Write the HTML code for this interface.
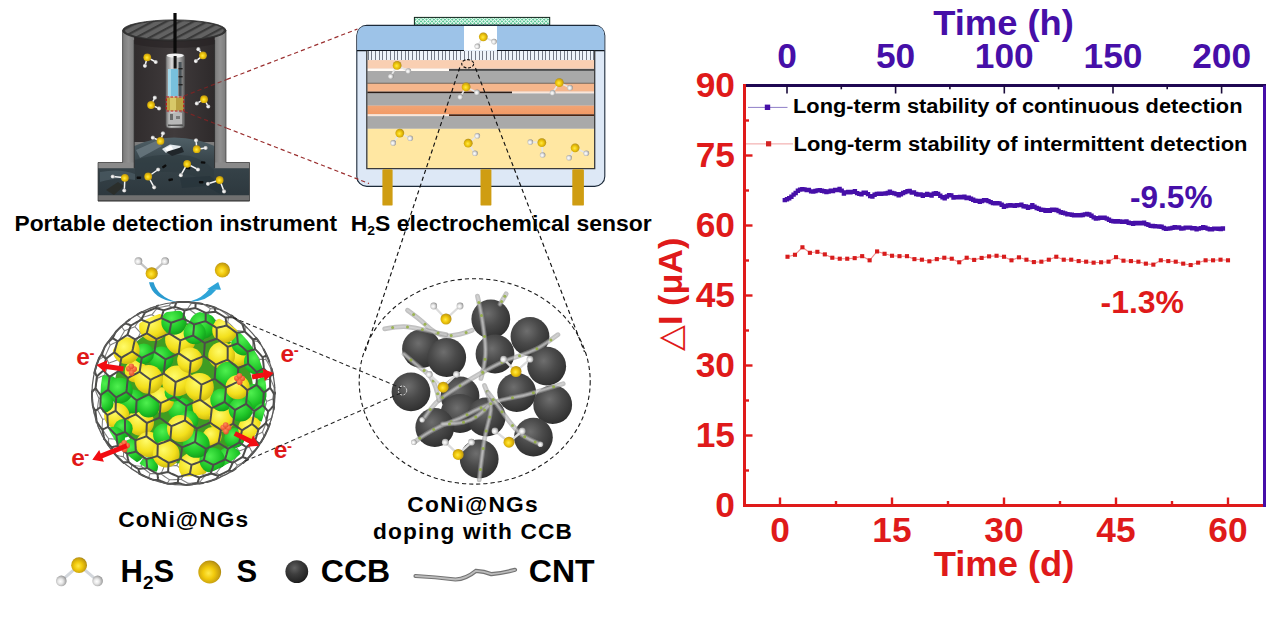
<!DOCTYPE html>
<html><head><meta charset="utf-8"><title>H2S sensor graphical abstract</title>
<style>html,body{margin:0;padding:0;background:#fff;overflow:hidden}svg{display:block}</style>
</head><body>
<svg width="1268" height="629" viewBox="0 0 1268 629">
<rect width="1268" height="629" fill="#fff"/>
<defs>
<radialGradient id="gS" cx="0.45" cy="0.55" r="0.62"><stop offset="0" stop-color="#ffe94a"/><stop offset="0.4" stop-color="#f2ca0c"/><stop offset="0.8" stop-color="#c49c10"/><stop offset="1" stop-color="#8c6e10"/></radialGradient>
<radialGradient id="gH" cx="0.42" cy="0.55" r="0.62"><stop offset="0" stop-color="#ffffff"/><stop offset="0.4" stop-color="#e6e6e6"/><stop offset="0.8" stop-color="#acacac"/><stop offset="1" stop-color="#7c7c7c"/></radialGradient>
<radialGradient id="gC" cx="0.42" cy="0.36" r="0.72"><stop offset="0" stop-color="#6e6e6e"/><stop offset="0.45" stop-color="#4a4a4a"/><stop offset="0.85" stop-color="#333"/><stop offset="1" stop-color="#1c1c1c"/></radialGradient>
<radialGradient id="gC2" cx="0.4" cy="0.34" r="0.7"><stop offset="0" stop-color="#626262"/><stop offset="0.4" stop-color="#3e3e3e"/><stop offset="0.85" stop-color="#262626"/><stop offset="1" stop-color="#141414"/></radialGradient>
<radialGradient id="gG" cx="0.4" cy="0.35" r="0.8"><stop offset="0" stop-color="#4ff04f"/><stop offset="0.55" stop-color="#1fc628"/><stop offset="1" stop-color="#0c8a14"/></radialGradient>
<radialGradient id="gY" cx="0.4" cy="0.35" r="0.8"><stop offset="0" stop-color="#fffb6a"/><stop offset="0.55" stop-color="#f3e01c"/><stop offset="1" stop-color="#b7a208"/></radialGradient>
<radialGradient id="gR" cx="0.4" cy="0.35" r="0.8"><stop offset="0" stop-color="#ff8a5a"/><stop offset="1" stop-color="#e0401c"/></radialGradient>
<linearGradient id="gWall" x1="0" x2="1"><stop offset="0" stop-color="#7a7a7a"/><stop offset="0.5" stop-color="#909090"/><stop offset="1" stop-color="#7c7c7c"/></linearGradient>
<linearGradient id="gInner" x1="0" x2="1"><stop offset="0" stop-color="#302c2d"/><stop offset="0.5" stop-color="#403b3c"/><stop offset="1" stop-color="#2e2a2b"/></linearGradient>
<linearGradient id="gProbe" x1="0" x2="1"><stop offset="0" stop-color="#7c7c7c"/><stop offset="0.3" stop-color="#d4d4d4"/><stop offset="0.7" stop-color="#b0b0b0"/><stop offset="1" stop-color="#606060"/></linearGradient>
<linearGradient id="gWater" x1="0" x2="0" y1="0" y2="1"><stop offset="0" stop-color="#506067"/><stop offset="0.4" stop-color="#38454b"/><stop offset="1" stop-color="#2d383e"/></linearGradient>
<linearGradient id="gOr2" x1="0" x2="0" y1="0" y2="1"><stop offset="0" stop-color="#f2a474"/><stop offset="1" stop-color="#f19a66"/></linearGradient>
<linearGradient id="gTube" x1="0" x2="0" y1="0" y2="1"><stop offset="0" stop-color="#f2f2f2"/><stop offset="1" stop-color="#8c8c8c"/></linearGradient>
<pattern id="pHatch" width="3.7" height="10" patternUnits="userSpaceOnUse" x="367.5" y="50"><rect width="3.7" height="10" fill="#eaf2fa"/><rect x="0" width="0.9" height="10" fill="#7d8a98"/></pattern>
<pattern id="pGreen" width="2.6" height="2.6" patternUnits="userSpaceOnUse" patternTransform="rotate(45)"><rect width="2.6" height="2.6" fill="#eafaf2"/><rect width="1.7" height="1.7" fill="#55c592"/></pattern>
<pattern id="pGrate" width="6.4" height="9" patternUnits="userSpaceOnUse" patternTransform="rotate(62)"><rect width="6.4" height="9" fill="#626262"/><rect width="2.2" height="9" fill="#3a3a3a"/></pattern>
<clipPath id="cSphere"><circle cx="183.5" cy="393.5" r="83"/></clipPath>
</defs>
<path d="M122.6,30.5 L122.6,162.5 L98,162.5 L98,201 L249.5,201 L249.5,162.5 L226,162.5 L226,30.5 Z" fill="#7c7c7c"/>
<rect x="122.6" y="30" width="11.6" height="138" fill="url(#gWall)"/>
<rect x="214.6" y="30" width="11.4" height="138" fill="url(#gWall)"/>
<rect x="134.2" y="30" width="80.4" height="112" fill="url(#gInner)"/>
<rect x="98" y="162.5" width="36.2" height="5.8" fill="#8a8a8a"/>
<rect x="214.6" y="162.5" width="35" height="5.8" fill="#8a8a8a"/>
<path d="M134.2,146 Q150,138 174,137.5 Q198,138 214.6,146 L214.6,168.3 L249.5,168.3 L249.5,195.6 L98,195.6 L98,168.3 L134.2,168.3 Z" fill="url(#gWater)"/>
<path d="M136,150 L156,141 L162,146 L140,158 Z" fill="#6b7b82" opacity="0.8"/>
<path d="M135,160 Q160,152 190,156 Q205,160 214,170 L214,185 Q190,170 160,172 Q145,176 135,180 Z" fill="#2e3a40" opacity="0.55"/>
<path d="M180,178 L210,176 L228,192 L222,195 L206,186 L182,188 Z" fill="#27333a" opacity="0.7"/>
<path d="M100,172 Q120,168 135,174 L135,180 Q118,176 100,182 Z" fill="#51626a" opacity="0.6"/>
<path d="M106,190 L118,182 L124,186 L114,195 Z" fill="#2a2a22" opacity="0.7"/>
<path d="M162,149 L170,144.5 L181,146 L178,151.5 L166,153 Z" fill="#dfe6ea"/>
<path d="M166,152 L182,147 L184,152 L172,156 Z" fill="#20262a"/>
<path d="M165,148.5 L171,145.5 L173,149 L167,151.5 Z" fill="#ffffff"/>
<rect x="162.0" y="165.1" width="4.6" height="2.4" rx="0.8" fill="#0c0c0c" transform="rotate(-35 164.3 166.3)"/>
<rect x="136.6" y="176.6" width="4.6" height="2.4" rx="0.8" fill="#0c0c0c" transform="rotate(0 138.9 177.8)"/>
<rect x="168.4" y="178.5" width="4.6" height="2.4" rx="0.8" fill="#0c0c0c" transform="rotate(-10 170.7 179.7)"/>
<rect x="200.8" y="161.3" width="4.6" height="2.4" rx="0.8" fill="#0c0c0c" transform="rotate(5 203.1 162.5)"/>
<rect x="198.9" y="181.0" width="4.6" height="2.4" rx="0.8" fill="#0c0c0c" transform="rotate(0 201.2 182.2)"/>
<rect x="185.7" y="166.8" width="4.6" height="2.4" rx="0.8" fill="#0c0c0c" transform="rotate(10 188.0 168.0)"/>
<rect x="98" y="195.6" width="151.5" height="5.6" fill="#707070"/>
<rect x="98" y="200.2" width="151.5" height="1" fill="#4a4a4a"/>
<path d="M122.6,30.5 L122.6,162.5 L98,162.5 L98,201 L249.5,201 L249.5,162.5 L226,162.5 L226,30.5" fill="none" stroke="#3a3a3a" stroke-width="0.7"/>
<line x1="134.2" y1="40" x2="134.2" y2="168" stroke="#2a2a2a" stroke-width="0.8"/>
<line x1="214.6" y1="40" x2="214.6" y2="168" stroke="#2a2a2a" stroke-width="0.8"/>
<ellipse cx="174.3" cy="30.5" rx="51.7" ry="10.6" fill="#353535"/>
<ellipse cx="174.3" cy="30.3" rx="49.3" ry="9.2" fill="url(#pGrate)"/>
<ellipse cx="174.3" cy="30.5" rx="51.7" ry="10.6" fill="none" stroke="#2a2a2a" stroke-width="0.8"/>
<path d="M134.2,37 A51.7,10.6 0 0 0 214.6,37 L214.6,44 A51.7,10.6 0 0 1 134.2,44 Z" fill="#262223" opacity="0.6"/>
<rect x="173.4" y="13" width="3.2" height="42" fill="#0a0a0a"/>
<rect x="166" y="54" width="18.5" height="74" rx="3" fill="url(#gProbe)"/>
<rect x="166" y="54" width="18.5" height="74" rx="3" fill="none" stroke="#5a5a5a" stroke-width="0.7"/>
<ellipse cx="175.2" cy="55.5" rx="8.6" ry="2" fill="#f2f2f2"/>
<rect x="173.6" y="56" width="3" height="12.5" fill="#151515"/>
<rect x="168" y="69" width="10" height="27" fill="#78c0dc"/>
<rect x="168" y="69" width="3" height="27" fill="#a4d8ea"/>
<rect x="178.6" y="62" width="3" height="34" fill="#4a5358"/>
<rect x="178.6" y="68" width="4" height="1.4" fill="#222"/><rect x="178.6" y="76" width="4" height="1.4" fill="#222"/><rect x="178.6" y="84" width="4" height="1.4" fill="#222"/>
<rect x="167" y="97.5" width="16.5" height="13" fill="#b8a040"/>
<rect x="170" y="97.5" width="6" height="13" fill="#d8c868"/>
<rect x="168.5" y="113" width="13.5" height="11" fill="#b8b8b8"/>
<rect x="170" y="114" width="3" height="6" fill="#6a6a6a"/><rect x="176" y="116" width="4" height="3" fill="#7a7a7a"/><rect x="168" y="124.5" width="15" height="1.6" fill="#555"/>
<rect x="166.3" y="97" width="17.5" height="14" fill="none" stroke="#c01818" stroke-width="1.2" stroke-dasharray="2.6 1.6"/>
<line x1="147.3" y1="57.3" x2="155.8" y2="62.0" stroke="#f4f4f4" stroke-width="1.5" stroke-linecap="round"/>
<line x1="147.3" y1="57.3" x2="145.0" y2="65.8" stroke="#f4f4f4" stroke-width="1.5" stroke-linecap="round"/>
<circle cx="155.8" cy="62.0" r="2.1" fill="url(#gH)"/>
<circle cx="145.0" cy="65.8" r="2.1" fill="url(#gH)"/>
<circle cx="147.3" cy="57.3" r="3.9" fill="url(#gS)"/>
<line x1="203.0" y1="55.3" x2="198.4" y2="49.2" stroke="#f4f4f4" stroke-width="1.5" stroke-linecap="round"/>
<line x1="203.0" y1="55.3" x2="195.9" y2="61.1" stroke="#f4f4f4" stroke-width="1.5" stroke-linecap="round"/>
<circle cx="198.4" cy="49.2" r="2.1" fill="url(#gH)"/>
<circle cx="195.9" cy="61.1" r="2.1" fill="url(#gH)"/>
<circle cx="203.0" cy="55.3" r="3.9" fill="url(#gS)"/>
<line x1="151.1" y1="105.0" x2="154.9" y2="97.7" stroke="#f4f4f4" stroke-width="1.5" stroke-linecap="round"/>
<line x1="151.1" y1="105.0" x2="159.1" y2="108.4" stroke="#f4f4f4" stroke-width="1.5" stroke-linecap="round"/>
<circle cx="154.9" cy="97.7" r="2.1" fill="url(#gH)"/>
<circle cx="159.1" cy="108.4" r="2.1" fill="url(#gH)"/>
<circle cx="151.1" cy="105.0" r="3.9" fill="url(#gS)"/>
<line x1="204.1" y1="99.2" x2="196.9" y2="103.4" stroke="#f4f4f4" stroke-width="1.5" stroke-linecap="round"/>
<line x1="204.1" y1="99.2" x2="208.3" y2="106.5" stroke="#f4f4f4" stroke-width="1.5" stroke-linecap="round"/>
<circle cx="196.9" cy="103.4" r="2.1" fill="url(#gH)"/>
<circle cx="208.3" cy="106.5" r="2.1" fill="url(#gH)"/>
<circle cx="204.1" cy="99.2" r="3.9" fill="url(#gS)"/>
<line x1="160.5" y1="140.9" x2="152.9" y2="137.7" stroke="#f4f4f4" stroke-width="1.5" stroke-linecap="round"/>
<line x1="160.5" y1="140.9" x2="163.0" y2="133.3" stroke="#f4f4f4" stroke-width="1.5" stroke-linecap="round"/>
<circle cx="152.9" cy="137.7" r="2.1" fill="url(#gH)"/>
<circle cx="163.0" cy="133.3" r="2.1" fill="url(#gH)"/>
<circle cx="160.5" cy="140.9" r="3.9" fill="url(#gS)"/>
<line x1="196.8" y1="149.2" x2="196.1" y2="140.3" stroke="#f4f4f4" stroke-width="1.5" stroke-linecap="round"/>
<line x1="196.8" y1="149.2" x2="205.7" y2="147.9" stroke="#f4f4f4" stroke-width="1.5" stroke-linecap="round"/>
<circle cx="196.1" cy="140.3" r="2.1" fill="url(#gH)"/>
<circle cx="205.7" cy="147.9" r="2.1" fill="url(#gH)"/>
<circle cx="196.8" cy="149.2" r="3.9" fill="url(#gS)"/>
<line x1="187.2" y1="163.8" x2="198.0" y2="169.5" stroke="#f4f4f4" stroke-width="1.5" stroke-linecap="round"/>
<line x1="187.2" y1="163.8" x2="180.9" y2="175.2" stroke="#f4f4f4" stroke-width="1.5" stroke-linecap="round"/>
<circle cx="198.0" cy="169.5" r="2.1" fill="url(#gH)"/>
<circle cx="180.9" cy="175.2" r="2.1" fill="url(#gH)"/>
<circle cx="187.2" cy="163.8" r="3.9" fill="url(#gS)"/>
<line x1="148.2" y1="176.5" x2="158.2" y2="169.5" stroke="#f4f4f4" stroke-width="1.5" stroke-linecap="round"/>
<line x1="148.2" y1="176.5" x2="154.2" y2="187.3" stroke="#f4f4f4" stroke-width="1.5" stroke-linecap="round"/>
<circle cx="158.2" cy="169.5" r="2.1" fill="url(#gH)"/>
<circle cx="154.2" cy="187.3" r="2.1" fill="url(#gH)"/>
<circle cx="148.2" cy="176.5" r="3.9" fill="url(#gS)"/>
<line x1="124.9" y1="177.8" x2="112.8" y2="176.5" stroke="#f4f4f4" stroke-width="1.5" stroke-linecap="round"/>
<line x1="124.9" y1="177.8" x2="124.3" y2="190.5" stroke="#f4f4f4" stroke-width="1.5" stroke-linecap="round"/>
<circle cx="112.8" cy="176.5" r="2.1" fill="url(#gH)"/>
<circle cx="124.3" cy="190.5" r="2.1" fill="url(#gH)"/>
<circle cx="124.9" cy="177.8" r="3.9" fill="url(#gS)"/>
<line x1="219.7" y1="180.0" x2="208.0" y2="183.8" stroke="#f4f4f4" stroke-width="1.5" stroke-linecap="round"/>
<line x1="219.7" y1="180.0" x2="224.1" y2="191.4" stroke="#f4f4f4" stroke-width="1.5" stroke-linecap="round"/>
<circle cx="208.0" cy="183.8" r="2.1" fill="url(#gH)"/>
<circle cx="224.1" cy="191.4" r="2.1" fill="url(#gH)"/>
<circle cx="219.7" cy="180.0" r="3.9" fill="url(#gS)"/>
<rect x="414.4" y="17.4" width="135.3" height="7.8" fill="url(#pGreen)" stroke="#10241a" stroke-width="1"/>
<rect x="356.8" y="25.4" width="248" height="161" rx="10" ry="10" fill="#dde8f6" stroke="#1c2a3a" stroke-width="1.1"/>
<path d="M357.3,50.6 L357.3,35.4 Q357.3,25.9 366.8,25.9 L594.8,25.9 Q604.3,25.9 604.3,35.4 L604.3,50.6 Z" fill="#9dc3e8"/>
<rect x="464" y="26" width="33" height="24.6" fill="#ffffff"/>
<line x1="357" y1="50.6" x2="464" y2="50.6" stroke="#10161e" stroke-width="1.3"/>
<line x1="497" y1="50.6" x2="604.5" y2="50.6" stroke="#10161e" stroke-width="1.3"/>
<rect x="367.3" y="51" width="226.90000000000003" height="9.2" fill="#eef4fa"/>
<path d="M368.1,51V60.2M371.8,51V60.2M375.5,51V60.2M379.2,51V60.2M382.9,51V60.2M386.6,51V60.2M390.3,51V60.2M394.0,51V60.2M397.7,51V60.2M401.4,51V60.2M405.1,51V60.2M408.8,51V60.2M412.5,51V60.2M416.2,51V60.2M419.9,51V60.2M423.6,51V60.2M427.3,51V60.2M431.0,51V60.2M434.7,51V60.2M438.4,51V60.2M442.1,51V60.2M445.8,51V60.2M449.5,51V60.2M453.2,51V60.2M456.9,51V60.2M460.6,51V60.2M464.3,51V60.2M468.0,51V60.2M471.7,51V60.2M475.4,51V60.2M479.1,51V60.2M482.8,51V60.2M486.5,51V60.2M490.2,51V60.2M493.9,51V60.2M497.6,51V60.2M501.3,51V60.2M505.0,51V60.2M508.7,51V60.2M512.4,51V60.2M516.1,51V60.2M519.8,51V60.2M523.5,51V60.2M527.2,51V60.2M530.9,51V60.2M534.6,51V60.2M538.3,51V60.2M542.0,51V60.2M545.7,51V60.2M549.4,51V60.2M553.1,51V60.2M556.8,51V60.2M560.5,51V60.2M564.2,51V60.2M567.9,51V60.2M571.6,51V60.2M575.3,51V60.2M579.0,51V60.2M582.7,51V60.2M586.4,51V60.2M590.1,51V60.2M593.8,51V60.2" stroke="#767c88" stroke-width="1" fill="none" shape-rendering="crispEdges"/>
<rect x="367.3" y="60.1" width="226.90000000000003" height="8.6" fill="#f9cfb2"/>
<rect x="367.3" y="68.7" width="81.69999999999999" height="2.3" fill="#fffaf4"/>
<rect x="449" y="68.9" width="145.20000000000005" height="2" fill="#4c4c4c"/>
<rect x="367.3" y="71" width="226.90000000000003" height="12.2" fill="#a9a9a9"/>
<rect x="367.3" y="83.2" width="226.90000000000003" height="8.5" fill="#f5b68c"/>
<rect x="367.3" y="82.8" width="226.90000000000003" height="0.8" fill="#5a5048"/>
<rect x="367.3" y="91.6" width="144.7" height="1.9" fill="#2a1c16"/>
<rect x="512" y="91.6" width="82.20000000000005" height="1.9" fill="#fbe6d8"/>
<rect x="367.3" y="93.5" width="226.90000000000003" height="12.2" fill="#a9a9a9"/>
<rect x="367.3" y="105.6" width="226.90000000000003" height="8.8" fill="url(#gOr2)"/>
<rect x="367.3" y="114.3" width="81.69999999999999" height="1.9" fill="#fbe6d8"/>
<rect x="449" y="114.3" width="145.20000000000005" height="1.9" fill="#4a2412"/>
<rect x="367.3" y="116.2" width="226.90000000000003" height="12.6" fill="#a9a9a9"/>
<rect x="367.3" y="128.8" width="226.90000000000003" height="39.6" fill="#ffe7a2"/>
<path d="M366.8,50.6 L366.8,168.6 L594.7,168.6 L594.7,50.6" fill="none" stroke="#3a3a3a" stroke-width="1.3"/>
<rect x="382.4" y="169.3" width="10.2" height="36.3" rx="1.2" fill="#cf9d12"/>
<rect x="480.5" y="169.3" width="10.9" height="36.3" rx="1.2" fill="#cf9d12"/>
<rect x="572.3" y="169.3" width="11.6" height="36.3" rx="1.2" fill="#cf9d12"/>
<line x1="483.3" y1="36.8" x2="477.3" y2="46.3" stroke="#e6e6e6" stroke-width="1.7" stroke-linecap="round"/>
<line x1="483.3" y1="36.8" x2="494.0" y2="41.6" stroke="#e6e6e6" stroke-width="1.7" stroke-linecap="round"/>
<circle cx="477.3" cy="46.3" r="2.8" fill="url(#gH)"/>
<circle cx="494.0" cy="41.6" r="2.8" fill="url(#gH)"/>
<circle cx="483.3" cy="36.8" r="4.4" fill="url(#gS)"/>
<line x1="397.1" y1="65.4" x2="408.3" y2="71.0" stroke="#e6e6e6" stroke-width="1.7" stroke-linecap="round"/>
<line x1="397.1" y1="65.4" x2="390.8" y2="76.2" stroke="#e6e6e6" stroke-width="1.7" stroke-linecap="round"/>
<circle cx="408.3" cy="71.0" r="2.8" fill="url(#gH)"/>
<circle cx="390.8" cy="76.2" r="2.8" fill="url(#gH)"/>
<circle cx="397.1" cy="65.4" r="4.4" fill="url(#gS)"/>
<line x1="466.1" y1="86.9" x2="477.0" y2="92.4" stroke="#e6e6e6" stroke-width="1.7" stroke-linecap="round"/>
<line x1="466.1" y1="86.9" x2="460.3" y2="96.9" stroke="#e6e6e6" stroke-width="1.7" stroke-linecap="round"/>
<circle cx="477.0" cy="92.4" r="2.8" fill="url(#gH)"/>
<circle cx="460.3" cy="96.9" r="2.8" fill="url(#gH)"/>
<circle cx="466.1" cy="86.9" r="4.4" fill="url(#gS)"/>
<line x1="559.3" y1="82.6" x2="570.0" y2="87.7" stroke="#e6e6e6" stroke-width="1.7" stroke-linecap="round"/>
<line x1="559.3" y1="82.6" x2="552.6" y2="92.8" stroke="#e6e6e6" stroke-width="1.7" stroke-linecap="round"/>
<circle cx="570.0" cy="87.7" r="2.8" fill="url(#gH)"/>
<circle cx="552.6" cy="92.8" r="2.8" fill="url(#gH)"/>
<circle cx="559.3" cy="82.6" r="4.4" fill="url(#gS)"/>
<line x1="399.8" y1="133.1" x2="410.2" y2="138.2" stroke="#e6e6e6" stroke-width="1.7" stroke-linecap="round"/>
<line x1="399.8" y1="133.1" x2="393.2" y2="142.9" stroke="#e6e6e6" stroke-width="1.7" stroke-linecap="round"/>
<circle cx="410.2" cy="138.2" r="2.8" fill="url(#gH)"/>
<circle cx="393.2" cy="142.9" r="2.8" fill="url(#gH)"/>
<circle cx="399.8" cy="133.1" r="4.4" fill="url(#gS)"/>
<line x1="468.2" y1="143.2" x2="477.3" y2="135.8" stroke="#e6e6e6" stroke-width="1.7" stroke-linecap="round"/>
<line x1="468.2" y1="143.2" x2="475.0" y2="153.3" stroke="#e6e6e6" stroke-width="1.7" stroke-linecap="round"/>
<circle cx="477.3" cy="135.8" r="2.8" fill="url(#gH)"/>
<circle cx="475.0" cy="153.3" r="2.8" fill="url(#gH)"/>
<circle cx="468.2" cy="143.2" r="4.4" fill="url(#gS)"/>
<line x1="541.8" y1="142.6" x2="530.3" y2="142.1" stroke="#e6e6e6" stroke-width="1.7" stroke-linecap="round"/>
<line x1="541.8" y1="142.6" x2="542.6" y2="155.0" stroke="#e6e6e6" stroke-width="1.7" stroke-linecap="round"/>
<circle cx="530.3" cy="142.1" r="2.8" fill="url(#gH)"/>
<circle cx="542.6" cy="155.0" r="2.8" fill="url(#gH)"/>
<circle cx="541.8" cy="142.6" r="4.4" fill="url(#gS)"/>
<line x1="575.1" y1="147.8" x2="586.3" y2="153.2" stroke="#e6e6e6" stroke-width="1.7" stroke-linecap="round"/>
<line x1="575.1" y1="147.8" x2="569.1" y2="157.7" stroke="#e6e6e6" stroke-width="1.7" stroke-linecap="round"/>
<circle cx="586.3" cy="153.2" r="2.8" fill="url(#gH)"/>
<circle cx="569.1" cy="157.7" r="2.8" fill="url(#gH)"/>
<circle cx="575.1" cy="147.8" r="4.4" fill="url(#gS)"/>
<path d="M158.6,447.8L156.3,445.3L153.9,442.8L151.6,440.2L149.3,437.6M271.8,369.4L271.7,369.1L271.0,369.1M262.5,432.0L260.7,433.1L258.7,434.1L256.7,435.1L254.5,436.2M274.0,406.8L274.3,404.9L273.9,403.0L273.4,400.9L272.7,398.8M102.6,419.2L101.2,416.7L99.9,414.2L98.6,411.8L97.4,409.4M264.2,380.2L262.8,377.7L261.3,375.1L259.8,372.6L258.1,370.0M188.5,483.4L187.4,484.4L186.4,485.0L185.4,485.0M266.7,401.3L265.6,399.0L264.5,396.7L263.2,394.3L261.9,391.8M210.8,415.6L207.2,416.3L203.6,417.0L200.0,417.7L196.4,418.3M192.1,393.0L190.8,396.5L189.5,400.1L188.2,403.6L186.9,407.1M131.6,464.9L129.6,463.0L127.5,461.0L125.4,458.9L123.4,456.8M136.5,365.4L133.3,366.2L130.3,367.0L127.3,367.8L124.4,368.6M252.7,394.1L251.8,397.2L250.8,400.4L249.8,403.6L248.8,406.8M174.1,334.8L170.7,335.4L167.3,336.1L163.9,336.7L160.5,337.4M244.8,325.6L245.1,326.8L245.2,328.3L245.3,329.9L245.3,331.6M265.1,352.1L264.8,351.4M152.9,329.5L149.7,330.3L146.6,331.1L143.5,332.0L140.5,332.8M110.2,345.2L109.6,343.8L109.1,342.5L108.7,341.3L108.9,340.6M109.0,446.3L108.2,445.5L107.6,444.6M215.9,401.8L214.6,405.2L213.4,408.7L212.1,412.1L210.8,415.6M206.7,390.4L203.1,391.1L199.4,391.7L195.8,392.4L192.1,393.0M263.4,413.1L261.4,413.9L259.3,414.7L257.0,415.5L254.7,416.3M153.3,425.3L152.2,428.4L151.2,431.6L150.2,434.6L149.3,437.6M214.0,330.3L210.9,330.4L207.7,330.6L204.5,330.9L201.3,331.2M207.6,481.8L205.1,482.4M261.9,391.8L259.8,392.4L257.5,392.9L255.2,393.5L252.7,394.1M97.6,378.2L96.9,376.1L96.3,374.2L95.8,372.3L95.3,370.5M205.1,482.4L204.0,482.7L202.7,483.0L201.3,482.5L199.8,481.8M210.3,308.5L208.2,307.2L206.1,305.9L204.1,304.8L202.1,303.9M92.0,391.5L92.0,394.0M197.1,342.2L193.6,342.6L190.1,343.1L186.6,343.6L183.1,344.2M131.3,415.9L130.5,419.1L129.6,422.2L128.9,425.2L128.1,428.1M143.2,458.3L140.9,456.1L138.7,453.8L136.5,451.5L134.3,449.1M140.9,318.1L139.4,320.1L137.9,322.2L136.4,324.4L134.9,326.7M140.9,318.1L139.7,317.1L138.6,316.2L137.7,315.5L136.8,314.9M123.5,347.7L122.2,350.6L120.9,353.5L119.6,356.5L118.3,359.5M202.1,303.9L199.5,303.6L196.8,303.5L194.1,303.4L191.4,303.5M245.9,460.4L246.0,460.3M108.8,363.2L107.7,366.2L106.6,369.1L105.6,372.1L104.7,375.1M233.8,385.6L232.7,389.0L231.7,392.3L230.5,395.7L229.4,399.1M123.2,405.0L120.4,405.5L117.7,405.9L115.2,406.4L112.7,406.8M211.5,376.6L209.1,373.8L206.8,370.9L204.4,368.1L202.0,365.3M163.7,359.4L161.5,356.8L159.3,354.3L157.2,351.8L155.1,349.4M206.5,352.5L204.1,349.8L201.8,347.2L199.4,344.7L197.1,342.2M252.1,452.0L250.7,454.3L249.2,456.4L247.7,458.5L246.0,460.3M168.9,305.6L166.0,306.1L163.2,306.7L160.4,307.3L157.6,307.9M98.9,359.9L98.9,358.5L99.4,357.4M274.2,388.2L273.5,386.0L272.6,383.7L271.6,381.4L270.6,379.0M237.4,465.2L236.6,464.3L235.6,463.3L234.6,462.1L233.4,460.9M239.2,432.2L237.9,435.2L236.5,438.2L235.2,441.2L233.8,444.0M237.4,465.2L235.9,467.1L234.4,468.9L232.8,470.6L231.0,471.7M150.0,473.4L147.8,471.7L145.6,470.0L143.4,468.1L141.2,466.2M127.1,392.0L126.0,395.3L125.1,398.5L124.1,401.8L123.2,405.0M187.8,308.5L184.9,308.7L181.9,309.0L178.9,309.3L175.8,309.7M128.1,428.1L125.4,428.4L122.7,428.6L120.1,428.7L117.6,428.9M139.6,389.4L136.4,390.1L133.2,390.7L130.1,391.3L127.1,392.0M191.2,431.7L187.6,432.3L184.0,432.9L180.4,433.5L176.8,434.1M254.5,436.2L253.2,438.9L251.9,441.6L250.6,444.3L249.2,446.9M194.9,453.4L191.5,454.0L188.1,454.5L184.7,455.1L181.3,455.5M250.1,428.5L247.5,429.4L244.8,430.4L242.0,431.3L239.2,432.2M229.0,361.7L228.1,364.8L227.1,368.0L226.1,371.2L225.1,374.5M271.0,420.2L271.4,418.8L271.9,417.3M119.8,381.5L117.1,382.2L114.5,382.9L112.1,383.6L109.7,384.3M175.8,309.7L174.0,308.5L172.2,307.4L170.5,306.5L168.9,305.6M183.1,344.2L180.8,341.7L178.5,339.4L176.3,337.0L174.1,334.8M247.1,327.8L246.0,326.7L244.8,325.6M143.2,458.3L142.6,460.5L142.1,462.5L141.7,464.4L141.2,466.2M188.5,483.4L186.7,482.5L184.9,481.5L183.0,480.4L181.0,479.3M124.6,330.8L123.7,329.6L122.9,328.5L122.2,327.5L121.6,326.7M249.2,446.9L246.9,448.0L244.4,449.1L241.9,450.1L239.3,451.1M248.7,371.1L246.8,368.5L244.9,365.8L242.8,363.1L240.8,360.4M244.8,325.6L242.8,323.8L240.7,322.1L238.6,320.4L236.5,318.9M266.7,421.1L266.0,419.2L265.3,417.2L264.4,415.2L263.4,413.1M233.8,444.0L230.8,445.0L227.8,445.8L224.7,446.7L221.5,447.6M237.3,409.8L236.1,413.1L234.9,416.4L233.6,419.6L232.4,422.9M155.1,349.4L151.7,350.2L148.3,351.0L145.0,351.8L141.8,352.6M225.1,374.5L221.8,375.0L218.4,375.5L215.0,376.0L211.5,376.6M243.2,349.4L242.6,352.0L242.1,354.7L241.5,357.6L240.8,360.4M124.4,368.6L122.8,366.3L121.2,363.9L119.7,361.7L118.3,359.5M161.0,473.9L158.2,473.9L155.4,473.8L152.6,473.6L150.0,473.4M160.5,337.4L158.5,335.3L156.6,333.3L154.7,331.3L152.9,329.5M252.7,394.1L251.0,391.5L249.3,388.9L247.5,386.2L245.6,383.5M201.3,331.2L199.0,329.0L196.7,326.8L194.5,324.7L192.2,322.7M144.5,375.8L143.3,379.2L142.0,382.6L140.8,386.0L139.6,389.4M136.8,438.7L136.1,441.4L135.5,444.1L134.8,446.6L134.3,449.1M228.7,316.0L228.5,317.3L228.3,318.8L228.0,320.4L227.7,322.1M220.0,309.6L220.1,309.6L220.2,309.8M176.8,465.4L173.6,465.7L170.4,466.0L167.3,466.2L164.1,466.4M172.2,409.6L170.9,413.1L169.7,416.5L168.5,419.9L167.3,423.2M172.2,409.6L169.7,406.8L167.3,403.9L165.0,401.0L162.6,398.2M246.0,460.3L244.1,461.7L242.0,462.9L239.8,464.1L237.4,465.2M254.5,436.2L253.5,434.4L252.5,432.5L251.3,430.6L250.1,428.5M263.7,437.5L262.4,439.9L261.0,442.1L259.6,444.3L258.1,446.4M227.7,322.1L225.1,321.8L222.4,321.7L219.7,321.6L216.8,321.5M110.4,418.5L108.2,418.7L106.2,418.9L104.4,419.0L102.6,419.2M196.4,418.3L195.1,421.7L193.8,425.1L192.5,428.4L191.2,431.7M243.2,349.4L241.1,346.8L239.0,344.3L236.8,341.8L234.7,339.4M140.5,332.8L139.0,331.2L137.6,329.6L136.2,328.1L134.9,326.7M109.7,384.3L108.3,381.9L107.0,379.6L105.8,377.3L104.7,375.1M219.3,426.0L217.3,423.5L215.1,420.9L213.0,418.3L210.8,415.6M108.8,363.2L107.8,361.2L106.9,359.3L106.0,357.5L105.3,355.8M254.7,416.3L253.3,414.1L251.9,411.7L250.4,409.3L248.8,406.8M95.0,389.4L93.8,389.9L92.7,390.5L92.0,391.0L92.0,391.5M254.7,416.3L253.6,419.4L252.4,422.5L251.3,425.5L250.1,428.5M264.8,351.4L263.5,349.1L262.2,346.8L260.7,344.4L259.2,342.2M191.4,303.5L190.6,304.5L189.7,305.7L188.8,307.0L187.8,308.5M148.4,400.6L147.3,404.1L146.2,407.4L145.1,410.8L144.0,414.1M134.3,449.1L131.6,449.1L129.0,449.0L126.5,448.9L124.1,448.8M236.3,330.5L234.2,328.3L232.0,326.1L229.9,324.1L227.7,322.1M186.9,407.1L183.2,407.8L179.5,408.4L175.8,409.0L172.2,409.6M124.4,368.6L123.2,371.8L122.0,375.1L120.9,378.3L119.8,381.5M98.9,359.9L98.0,362.6L97.0,365.2L96.2,367.8L95.3,370.5M216.8,321.5L216.2,323.5L215.5,325.7L214.8,327.9L214.0,330.3M128.5,320.3L126.8,321.7L125.0,323.2L123.1,324.7L121.6,326.7M270.6,379.0L269.2,379.3L267.7,379.5L266.0,379.9L264.2,380.2M144.0,414.1L140.7,414.6L137.5,415.1L134.4,415.5L131.3,415.9M157.6,307.9L156.2,307.2L155.0,306.7L154.0,306.9L153.1,307.2M117.6,428.9L115.7,426.3L113.9,423.7L112.1,421.1L110.4,418.5M124.6,330.8L123.2,333.2L121.7,335.7L120.3,338.2L118.9,340.8M200.2,441.7L198.0,439.3L195.7,436.8L193.5,434.3L191.2,431.7M170.8,484.1L168.8,483.8L166.8,483.5M108.5,438.5L106.8,436.1L105.2,433.7L103.7,431.3L102.2,428.9M222.3,464.7L220.8,466.9L219.4,469.0L217.9,471.0L216.5,472.9M216.5,472.9L213.6,473.7L210.8,474.4L207.8,475.1L204.9,475.8M248.7,371.1L248.0,374.2L247.3,377.2L246.5,380.4L245.6,383.5M93.5,410.0L93.1,407.7L92.8,405.5M141.2,466.2L138.7,466.0L136.3,465.7L133.9,465.3L131.6,464.9M178.0,356.8L174.4,357.4L170.8,358.1L167.2,358.7L163.7,359.4M93.5,410.0L93.9,412.3L94.4,414.5M259.2,342.2L257.9,341.7L256.4,341.3L254.7,340.9L253.0,340.6M206.5,352.5L205.4,355.6L204.3,358.8L203.2,362.0L202.0,365.3M210.3,308.5L209.8,309.7L209.2,311.0L208.6,312.5L208.0,314.1M232.4,422.9L229.2,423.7L226.0,424.5L222.7,425.3L219.3,426.0M272.7,398.8L271.4,399.4L270.0,400.0L268.4,400.7L266.7,401.3M203.1,461.4L201.8,463.8L200.4,466.1L199.1,468.4L197.9,470.5M127.1,392.0L125.2,389.3L123.3,386.7L121.6,384.1L119.8,381.5M134.9,344.0L131.9,344.9L129.0,345.8L126.2,346.7L123.5,347.7M104.7,375.1L102.7,375.9L100.9,376.6L99.2,377.4L97.6,378.2M266.7,421.1L265.7,423.8L264.7,426.6L263.6,429.3L262.5,432.0M192.1,393.0L189.7,390.1L187.2,387.2L184.8,384.4L182.4,381.5M124.1,448.8L122.1,446.4L120.1,444.0L118.1,441.6L116.2,439.1M233.8,385.6L231.7,382.9L229.5,380.1L227.3,377.3L225.1,374.5M105.3,355.8L103.5,356.8L101.9,357.9L100.3,358.9L98.9,359.9M274.1,405.9L274.0,406.8M123.5,347.7L122.2,345.8L121.0,344.1L119.9,342.4L118.9,340.8M112.7,406.8L111.0,404.2L109.4,401.6L107.9,399.1L106.4,396.6M115.2,332.7L113.6,334.5L112.0,336.4L110.4,338.5L108.9,340.6M160.5,337.4L159.2,340.3L157.8,343.3L156.4,346.3L155.1,349.4M92.0,391.5L92.1,389.6M221.5,476.1L220.3,475.5L219.1,474.7L217.9,473.9L216.5,472.9M234.7,339.4L231.9,339.4L229.1,339.5L226.2,339.6L223.2,339.7M136.8,438.7L134.6,436.1L132.4,433.4L130.3,430.8L128.1,428.1M239.3,451.1L238.0,449.5L236.7,447.8L235.3,445.9L233.8,444.0M167.7,384.1L166.4,387.6L165.1,391.2L163.8,394.7L162.6,398.2M264.2,380.2L263.7,383.0L263.2,385.9L262.6,388.9L261.9,391.8M199.8,481.8L196.9,482.3L194.1,482.7L191.3,483.1L188.5,483.4M158.4,319.8L156.7,318.4L155.1,317.0L153.5,315.7L152.0,314.6M117.6,428.9L117.2,431.6L116.8,434.2L116.4,436.7L116.2,439.1M158.4,372.9L154.9,373.6L151.4,374.3L147.9,375.1L144.5,375.8M271.0,369.1L269.9,366.7L268.6,364.3L267.4,361.9L266.0,359.6M167.7,384.1L165.3,381.3L163.0,378.5L160.7,375.7L158.4,372.9M155.1,458.1L152.0,458.2L149.0,458.3L146.1,458.3L143.2,458.3M213.9,438.8L210.5,439.6L207.1,440.3L203.6,441.0L200.2,441.7M202.0,365.3L198.4,365.9L194.8,366.4L191.2,367.0L187.5,367.6M144.5,375.8L142.4,373.1L140.4,370.5L138.4,367.9L136.5,365.4M118.3,359.5L115.8,360.5L113.4,361.4L111.0,362.3L108.8,363.2M181.3,455.5L179.0,453.3L176.8,451.0L174.5,448.7L172.1,446.2M102.2,428.9L100.8,428.8L99.6,428.6L98.9,428.3L98.7,427.7M175.8,309.7L174.7,311.5L173.5,313.3L172.3,315.2L171.0,317.3M200.2,441.7L198.8,444.7L197.5,447.7L196.2,450.6L194.9,453.4M162.6,398.2L159.0,398.8L155.4,399.4L151.9,400.0L148.4,400.6M158.6,447.8L157.7,450.5L156.8,453.1L155.9,455.6L155.1,458.1M257.5,339.6L258.3,340.9L259.2,342.2M140.5,332.8L139.1,335.5L137.7,338.3L136.3,341.1L134.9,344.0M274.8,387.5L274.8,387.8L274.2,388.2M153.1,307.2L150.7,308.1M264.8,351.4L265.6,353.1L265.8,355.2L265.9,357.3L266.0,359.6M216.8,321.5L214.6,319.6L212.4,317.7L210.2,315.9L208.0,314.1M109.7,384.3L108.8,387.4L108.0,390.5L107.2,393.5L106.4,396.6M185.3,472.4L184.2,474.3L183.1,476.1L182.1,477.7L181.0,479.3M132.2,469.2L130.6,468.2M228.7,316.0L226.6,314.3L224.5,312.8L222.3,311.2L220.2,309.8M116.0,454.9L114.2,452.8L112.4,450.7L110.7,448.5L109.0,446.3M185.3,472.4L183.2,470.8L181.1,469.1L179.0,467.3L176.8,465.4M173.7,302.5L172.5,302.7L171.3,303.2L170.1,304.3L168.9,305.6M98.9,398.5L97.8,396.1L96.8,393.8L95.9,391.6L95.0,389.4M248.8,406.8L246.1,407.6L243.2,408.3L240.3,409.0L237.3,409.8M155.2,480.5L153.0,479.8L150.8,479.0L148.6,478.1M169.5,479.8L167.4,478.4L165.3,477.0L163.2,475.5L161.0,473.9M219.3,426.0L218.0,429.3L216.6,432.5L215.3,435.7L213.9,438.8M98.9,398.5L98.4,401.3L98.0,404.0L97.7,406.7L97.4,409.4M97.6,378.2L96.9,381.0L96.2,383.8L95.6,386.6L95.0,389.4M231.3,471.5L231.0,471.7M97.4,409.4L96.1,409.6L94.9,409.8L93.8,410.0L93.5,410.0M233.4,460.9L230.7,461.9L228.0,462.9L225.2,463.8L222.3,464.7M183.1,344.2L181.8,347.2L180.6,350.3L179.3,353.5L178.0,356.8M252.1,452.0L251.5,450.9L250.8,449.7L250.1,448.3L249.2,446.9M202.4,304.0L202.1,303.9M208.0,314.1L205.1,314.1L202.1,314.2L199.2,314.3L196.1,314.4M222.3,464.7L220.8,463.3L219.2,461.8L217.6,460.1L215.9,458.4M181.3,455.5L180.1,458.2L179.0,460.7L177.9,463.1L176.8,465.4M259.5,359.4L259.3,361.9L259.0,364.5L258.6,367.2L258.1,370.0M116.0,454.9L116.7,456.0L117.5,456.9M157.6,307.9L156.2,309.4L154.8,311.0L153.4,312.8L152.0,314.6M245.6,383.5L242.8,384.0L239.9,384.6L236.9,385.1L233.8,385.6M169.5,479.8L168.7,481.0L168.0,482.1L167.3,483.1L166.8,483.5M196.1,314.4L194.0,312.8L191.9,311.3L189.8,309.8L187.8,308.5M131.3,415.9L129.2,413.2L127.2,410.5L125.2,407.7L123.2,405.0M211.5,376.6L210.3,380.0L209.1,383.5L207.9,386.9L206.7,390.4M191.4,303.5L189.5,302.6L187.7,302.1L185.8,302.0L184.1,302.0M138.6,473.2L136.4,472.0L134.3,470.6L132.2,469.2M176.8,434.1L174.4,431.4L172.1,428.7L169.7,426.0L167.3,423.2M229.4,399.1L226.1,399.8L222.8,400.4L219.3,401.1L215.9,401.8M221.5,447.6L220.1,450.4L218.7,453.1L217.3,455.8L215.9,458.4M196.1,314.4L195.2,316.3L194.2,318.3L193.3,320.5L192.2,322.7M141.8,352.6L140.0,350.3L138.2,348.1L136.5,346.0L134.9,344.0M266.7,401.3L266.0,404.2L265.2,407.2L264.3,410.1L263.4,413.1M141.8,352.6L140.4,355.7L139.1,358.9L137.8,362.2L136.5,365.4M131.6,464.9L131.6,466.4L131.5,467.7L131.6,468.9L132.2,469.2M167.3,423.2L163.7,423.8L160.2,424.3L156.7,424.8L153.3,425.3M253.0,340.6L251.1,338.3L249.2,336.0L247.3,333.8L245.3,331.6M166.8,483.5L164.3,483.0L161.9,482.4L159.6,481.8M215.9,458.4L212.7,459.2L209.5,460.0L206.3,460.7L203.1,461.4M118.9,340.8L116.6,341.9L114.4,342.9L112.2,344.1L110.2,345.2M106.4,396.6L104.4,397.1L102.4,397.5L100.6,398.0L98.9,398.5M176.8,434.1L175.6,437.2L174.4,440.3L173.3,443.3L172.1,446.2M108.5,438.5L108.5,440.6L108.6,442.6L108.8,444.5L109.0,446.3M171.0,317.3L167.8,317.9L164.7,318.5L161.5,319.1L158.4,319.8M258.1,370.0L256.0,370.3L253.7,370.5L251.3,370.8L248.7,371.1M148.4,400.6L146.2,397.8L144.0,395.0L141.8,392.2L139.6,389.4M172.1,446.2L168.7,446.7L165.3,447.1L161.9,447.4L158.6,447.8M236.3,330.5L236.0,332.5L235.6,334.7L235.2,337.0L234.7,339.4M245.3,331.6L243.2,331.3L241.0,331.0L238.7,330.7L236.3,330.5M201.3,331.2L200.3,333.8L199.2,336.5L198.2,339.3L197.1,342.2M102.6,419.2L102.4,421.7L102.3,424.2L102.2,426.6L102.2,428.9M203.1,461.4L201.1,459.5L199.1,457.5L197.0,455.5L194.9,453.4M223.2,339.7L220.9,337.3L218.6,334.9L216.3,332.6L214.0,330.3M150.0,473.4L149.6,474.8L149.2,476.0L148.9,477.1L148.6,478.1M179.1,324.4L177.9,326.8L176.7,329.4L175.4,332.1L174.1,334.8M252.5,349.4L250.3,349.3L248.0,349.3L245.7,349.3L243.2,349.4M274.2,388.2L274.0,390.8L273.6,393.4L273.2,396.1L272.7,398.8M237.3,409.8L235.4,407.2L233.5,404.5L231.4,401.8L229.4,399.1M152.0,314.6L149.2,315.4L146.3,316.2L143.6,317.1L140.9,318.1M158.4,319.8L157.0,322.1L155.7,324.5L154.3,326.9L152.9,329.5M110.2,345.2L108.9,347.8L107.7,350.4L106.5,353.1L105.3,355.8M116.2,439.1L114.0,439.0L112.1,438.9L110.2,438.7L108.5,438.5M229.0,361.7L226.7,359.0L224.5,356.3L222.2,353.6L219.9,350.9M271.0,369.1L271.0,371.4L270.9,373.9L270.8,376.4L270.6,379.0M124.1,448.8L123.8,451.0L123.6,453.0L123.5,455.0L123.4,456.8M187.5,367.6L185.1,364.9L182.7,362.1L180.4,359.4L178.0,356.8M112.7,406.8L112.1,409.8L111.4,412.8L110.9,415.7L110.4,418.5M134.9,326.7L132.2,327.7L129.6,328.7L127.1,329.7L124.6,330.8M149.3,437.6L146.1,437.9L142.9,438.2L139.8,438.4L136.8,438.7M221.5,476.1L219.9,477.4L218.2,478.2L216.6,478.8M163.7,359.4L162.3,362.7L161.0,366.1L159.7,369.5L158.4,372.9M239.2,432.2L237.6,429.9L235.9,427.7L234.2,425.3L232.4,422.9M258.1,446.4L257.0,448.0L255.8,449.6L254.0,450.8L252.1,452.0M266.0,359.6L264.6,359.5L263.0,359.4L261.3,359.4L259.5,359.4M197.9,470.5L194.7,471.0L191.6,471.5L188.4,472.0L185.3,472.4M240.8,360.4L238.0,360.7L235.1,361.0L232.1,361.3L229.0,361.7M153.3,425.3L150.9,422.5L148.6,419.7L146.3,416.9L144.0,414.1M274.0,406.8L273.6,409.4L273.1,412.0L272.5,414.6L271.9,417.3M221.5,447.6L219.7,445.5L217.8,443.3L215.9,441.1L213.9,438.8M136.8,314.9L134.6,316.2L132.5,317.6L130.5,318.9L128.5,320.3M187.5,367.6L186.3,371.1L185.0,374.5L183.7,378.0L182.4,381.5M236.5,318.9L234.9,317.8L233.0,317.0L230.9,316.5L228.7,316.0M164.1,466.4L163.3,468.5L162.5,470.4L161.7,472.2L161.0,473.9M259.5,359.4L257.9,356.9L256.1,354.4L254.3,351.9L252.5,349.4M263.7,437.5L263.9,436.5L263.5,435.1L263.1,433.6L262.5,432.0M253.0,340.6L252.9,342.6L252.8,344.8L252.7,347.0L252.5,349.4M223.2,339.7L222.4,342.4L221.6,345.2L220.8,348.0L219.9,350.9M164.1,466.4L161.9,464.4L159.6,462.4L157.4,460.2L155.1,458.1M219.9,350.9L216.6,351.3L213.3,351.6L209.9,352.0L206.5,352.5M182.4,381.5L178.7,382.1L175.0,382.8L171.3,383.5L167.7,384.1M220.2,309.8L217.9,309.4L215.4,309.0L212.9,308.7L210.3,308.5M95.3,370.5L94.7,371.5L94.4,372.5M231.0,471.7L228.8,473.0L226.5,474.3L224.0,475.2L221.5,476.1M204.9,475.8L203.6,477.5L202.3,479.0L201.0,480.5L199.8,481.8M196.4,418.3L194.0,415.6L191.7,412.8L189.3,410.0L186.9,407.1M215.9,401.8L213.6,399.0L211.3,396.1L209.0,393.3L206.7,390.4M239.3,451.1L237.8,453.7L236.4,456.2L234.9,458.6L233.4,460.9M184.1,302.0L181.5,302.0L178.9,302.1L176.3,302.3L173.7,302.5M179.1,324.4L177.0,322.5L175.0,320.7L173.0,318.9L171.0,317.3M264.5,436.1L263.7,437.5M123.4,456.8L121.4,456.4L119.5,456.0L117.7,455.5L116.0,454.9M121.6,326.7L119.6,328.0L118.1,329.6L116.6,331.1L115.2,332.7M181.0,479.3L178.1,479.5L175.2,479.6L172.3,479.7L169.5,479.8M148.6,478.1L146.5,477.2L144.5,476.3L142.5,475.3M192.2,322.7L189.0,323.1L185.7,323.4L182.4,323.9L179.1,324.4M108.9,340.6L107.8,342.1M204.9,475.8L203.2,474.6L201.5,473.3L199.7,472.0L197.9,470.5M142.1,311.9L140.3,312.8L138.6,313.8L136.8,314.9M98.7,427.7L97.7,425.4M271.9,417.3L271.0,418.3L269.7,419.2L268.3,420.1L266.7,421.1" fill="none" stroke="#808080" stroke-width="1.1" stroke-linecap="round" stroke-linejoin="round"/>
<g clip-path="url(#cSphere)">
<circle cx="183.5" cy="393.5" r="70" fill="#3f9d22"/>
<circle cx="135.9" cy="371.3" r="11.1" fill="url(#gY)"/>
<circle cx="193.1" cy="466.7" r="14.3" fill="url(#gY)"/>
<circle cx="161.3" cy="358.6" r="12.1" fill="url(#gG)"/>
<circle cx="140.6" cy="422.2" r="13.4" fill="url(#gY)"/>
<circle cx="132.7" cy="401.5" r="12.1" fill="url(#gG)"/>
<circle cx="116.8" cy="415.8" r="12.7" fill="url(#gY)"/>
<circle cx="153.4" cy="326.8" r="14.3" fill="url(#gY)"/>
<circle cx="264.7" cy="387.2" r="10.2" fill="url(#gG)"/>
<circle cx="123.2" cy="428.5" r="9.5" fill="url(#gG)"/>
<circle cx="205.8" cy="406.3" r="13.4" fill="url(#gY)"/>
<circle cx="132.7" cy="450.8" r="12.1" fill="url(#gG)"/>
<circle cx="221.7" cy="419.0" r="12.7" fill="url(#gY)"/>
<circle cx="237.6" cy="353.8" r="12.7" fill="url(#gY)"/>
<circle cx="253.5" cy="396.7" r="12.7" fill="url(#gG)"/>
<circle cx="229.7" cy="458.8" r="12.1" fill="url(#gG)"/>
<circle cx="234.4" cy="438.1" r="10.2" fill="url(#gG)"/>
<circle cx="180.4" cy="409.5" r="12.1" fill="url(#gG)"/>
<circle cx="161.3" cy="399.9" r="12.7" fill="url(#gY)"/>
<circle cx="263.1" cy="412.6" r="9.5" fill="url(#gG)"/>
<circle cx="212.2" cy="460.3" r="12.7" fill="url(#gG)"/>
<circle cx="148.6" cy="444.4" r="12.7" fill="url(#gY)"/>
<circle cx="212.2" cy="436.5" r="9.5" fill="url(#gY)"/>
<circle cx="202.6" cy="325.2" r="13.4" fill="url(#gG)"/>
<circle cx="180.4" cy="339.5" r="15.3" fill="url(#gY)"/>
<circle cx="143.8" cy="353.8" r="10.2" fill="url(#gG)"/>
<circle cx="107.3" cy="387.2" r="12.1" fill="url(#gG)"/>
<circle cx="148.6" cy="466.7" r="9.5" fill="url(#gG)"/>
<circle cx="221.7" cy="355.4" r="13.4" fill="url(#gY)"/>
<circle cx="120.0" cy="390.4" r="12.7" fill="url(#gG)"/>
<circle cx="250.3" cy="428.5" r="12.1" fill="url(#gY)"/>
<circle cx="188.3" cy="420.6" r="10.2" fill="url(#gG)"/>
<circle cx="164.5" cy="434.9" r="11.4" fill="url(#gG)"/>
<circle cx="196.3" cy="444.4" r="13.4" fill="url(#gG)"/>
<circle cx="221.7" cy="399.9" r="11.4" fill="url(#gG)"/>
<circle cx="180.4" cy="428.5" r="13.4" fill="url(#gY)"/>
<circle cx="174.0" cy="392.0" r="9.5" fill="url(#gG)"/>
<circle cx="244.0" cy="342.7" r="12.7" fill="url(#gG)"/>
<circle cx="256.7" cy="361.8" r="12.7" fill="url(#gG)"/>
<circle cx="177.2" cy="380.9" r="15.3" fill="url(#gY)"/>
<circle cx="224.9" cy="330.0" r="12.7" fill="url(#gY)"/>
<circle cx="166.1" cy="454.0" r="13.4" fill="url(#gY)"/>
<circle cx="113.6" cy="438.1" r="11.4" fill="url(#gG)"/>
<circle cx="104.1" cy="403.1" r="9.5" fill="url(#gG)"/>
<circle cx="228.1" cy="374.5" r="12.7" fill="url(#gG)"/>
<circle cx="174.0" cy="322.0" r="12.7" fill="url(#gG)"/>
<circle cx="199.5" cy="387.2" r="14.3" fill="url(#gY)"/>
<circle cx="148.6" cy="406.3" r="11.1" fill="url(#gG)"/>
<circle cx="148.6" cy="379.3" r="14.3" fill="url(#gY)"/>
<circle cx="126.3" cy="350.6" r="13.4" fill="url(#gY)"/>
<circle cx="240.8" cy="409.5" r="12.1" fill="url(#gG)"/>
<circle cx="194.7" cy="333.2" r="11.1" fill="url(#gG)"/>
<circle cx="189.9" cy="360.2" r="12.7" fill="url(#gY)"/>
<circle cx="237.6" cy="387.2" r="12.1" fill="url(#gY)"/>
</g>
<path d="M199.4,477.5L198.8,479.1L198.3,480.5L197.8,481.9L197.2,483.1M97.8,361.5L96.9,363.9L96.1,366.4L95.4,368.9L94.7,371.5M268.1,411.5L269.6,410.1L271.0,408.6L272.2,407.2L273.4,405.8M211.8,408.1L215.1,406.6L218.3,405.0L221.5,403.5L224.6,401.9M263.8,392.6L263.6,395.8L263.4,398.9L263.1,402.1L262.7,405.2M146.9,423.0L150.0,421.7L153.1,420.4L156.3,419.0L159.5,417.7M195.0,442.0L197.8,443.8L200.6,445.5L203.3,447.2L206.0,448.8M195.6,303.0L195.6,304.1L195.5,305.3L195.5,306.6L195.4,308.1M213.4,464.9L216.4,463.6L219.3,462.2L222.2,460.9L225.0,459.4M132.3,351.4L134.5,353.0L136.9,354.6L139.3,356.3L141.8,358.0M214.0,307.2L214.5,307.7L214.8,308.9L215.1,310.2L215.4,311.7M195.4,308.1L197.9,309.2L200.5,310.4L203.0,311.6L205.7,313.0M121.4,357.8L120.8,361.0L120.2,364.2L119.6,367.4L119.1,370.7M248.1,363.8L250.4,365.9L252.6,368.0L254.7,370.1L256.8,372.2M150.6,379.8L150.1,383.4L149.8,387.1L149.4,390.7L149.0,394.4M96.9,376.5L96.5,379.4L96.2,382.3L95.9,385.2L95.6,388.1M233.1,423.7L235.4,425.5L237.7,427.1L239.9,428.8L242.0,430.3M125.0,419.3L125.0,422.5L125.0,425.7L125.0,428.9L125.1,432.0M186.8,484.9L189.4,484.8L192.0,484.3L194.6,483.7L197.2,483.1M182.0,447.4L185.2,446.1L188.5,444.8L191.7,443.4L195.0,442.0M117.6,341.4L119.9,339.7L122.4,338.1L124.8,336.5L127.4,334.9M119.1,370.7L121.2,372.5L123.4,374.3L125.6,376.1L127.9,378.0M227.7,346.9L227.7,350.0L227.7,353.1L227.7,356.3L227.6,359.6M114.4,352.3L116.0,353.6L117.7,354.9L119.5,356.4L121.4,357.8M205.7,313.0L208.2,312.5L210.7,312.2L213.1,311.9L215.4,311.7M102.4,429.6L103.6,429.0L105.0,428.4L106.5,427.7L108.1,427.0M210.1,422.5L212.8,424.5L215.6,426.4L218.3,428.2L220.9,430.0M184.5,310.5L184.2,312.3L183.9,314.3L183.6,316.4L183.2,318.6M125.4,323.5L126.7,323.9L128.0,324.3L129.4,324.8L131.0,325.5M255.3,440.5L256.5,441.4L257.6,442.3L258.5,443.0L259.4,443.7M193.2,335.5L196.0,337.3L198.9,339.2L201.8,341.1L204.7,343.0M259.4,443.7L258.4,446.0L257.0,448.0L255.6,449.8L254.2,451.6M117.8,445.8L120.0,447.8L122.3,449.8L124.6,451.8L127.0,453.7M135.4,440.3L138.0,439.4L140.7,438.4L143.5,437.4L146.4,436.3M216.6,328.0L216.7,330.5L216.7,333.2L216.7,336.0L216.6,338.8M159.5,417.7L162.5,419.8L165.5,422.0L168.5,424.1L171.5,426.2M155.5,308.1L157.4,308.5L159.4,309.0L161.5,309.6L163.7,310.3M94.3,373.1L94.7,371.5M224.6,401.9L227.3,404.0L230.0,406.0L232.5,408.0L235.0,410.0M203.8,460.1L206.3,461.4L208.8,462.7L211.1,463.8L213.4,464.9M269.9,376.2L271.0,375.4L272.0,374.5L272.8,373.8L272.7,373.2M195.6,303.0L198.0,303.2L200.2,303.5L202.3,304.0M117.4,330.2L115.9,331.8L114.8,333.8L113.8,335.9L112.7,338.2M247.3,390.2L247.1,393.6L246.8,397.0L246.4,400.4L246.1,403.8M203.9,356.0L206.9,358.2L209.8,360.3L212.7,362.4L215.7,364.6M236.8,333.0L237.1,335.5L237.4,338.1L237.6,340.7L237.8,343.5M180.4,340.4L183.6,339.1L186.8,337.8L190.0,336.6L193.2,335.5M96.9,376.5L98.4,375.1L100.0,373.6L101.7,372.1L103.5,370.6M258.4,429.5L257.7,432.3L256.9,435.1L256.1,437.8L255.3,440.5M165.5,359.3L168.8,357.8L172.2,356.3L175.5,354.8L178.9,353.4M201.5,384.7L201.2,388.4L200.8,392.1L200.4,395.9L200.1,399.6M171.5,426.2L174.8,424.8L178.1,423.4L181.5,421.9L184.9,420.4M129.5,319.6L128.1,320.7L126.6,321.8L125.4,323.5M168.6,462.9L168.5,465.3L168.3,467.6L168.2,469.9L168.1,471.9M135.9,451.5L138.5,453.5L141.1,455.4L143.8,457.3L146.5,459.1M131.0,325.5L130.1,327.7L129.1,330.0L128.3,332.4L127.4,334.9M146.7,333.4L149.1,334.7L151.5,336.1L154.0,337.6L156.5,339.1M194.1,324.5L193.9,327.1L193.7,329.8L193.4,332.6L193.2,335.5M246.1,403.8L248.2,405.7L250.3,407.6L252.3,409.4L254.3,411.1M255.1,349.1L257.1,351.1L259.0,353.2L260.8,355.2L262.6,357.3M174.2,397.0L177.2,399.2L180.3,401.4L183.4,403.6L186.4,405.8M178.5,476.9L181.3,476.2L184.1,475.4L187.0,474.6L189.9,473.8M125.0,419.3L127.6,418.1L130.2,416.9L133.0,415.7L135.8,414.4M214.7,378.8L217.6,381.0L220.4,383.1L223.2,385.3L226.0,387.5M197.2,483.1L199.3,483.4L201.2,483.3L203.0,482.9M246.3,447.1L245.4,449.6L244.5,452.1L243.6,454.5L242.6,456.8M112.7,338.2L113.8,338.8L115.0,339.6L116.2,340.4L117.6,341.4M171.5,426.2L171.2,429.7L170.9,433.1L170.6,436.5L170.3,439.7M244.6,331.6L246.8,333.5L249.0,335.5L251.1,337.4L253.1,339.4M190.8,361.5L190.4,365.1L190.1,368.7L189.7,372.3L189.4,375.9M186.4,302.0L188.6,302.1L190.9,302.3L193.3,302.5L195.6,303.0M215.4,311.7L217.9,313.1L220.4,314.5L222.9,316.0L225.4,317.6M145.0,312.5L144.1,314.2L143.2,315.9L142.3,317.8L141.5,319.7M178.9,353.4L181.8,355.4L184.8,357.4L187.8,359.4L190.8,361.5M168.1,471.9L170.8,473.3L173.4,474.5L176.0,475.7L178.5,476.9M138.4,469.0L140.4,468.8L142.6,468.6L144.8,468.4L147.2,468.0M177.7,482.8L180.1,483.5L182.4,484.2L184.6,484.8L186.8,484.9M146.5,459.1L146.6,461.5L146.8,463.8L147.0,465.9L147.2,468.0M171.1,322.8L170.7,325.4L170.2,328.0L169.7,330.7L169.2,333.6M139.7,313.2L140.7,312.6L141.8,312.1L143.3,312.2L145.0,312.5M225.0,459.4L227.1,460.4L229.0,461.3L230.8,462.1L232.6,462.9M220.9,430.0L224.0,428.5L227.1,426.9L230.1,425.3L233.1,423.7M116.4,435.3L118.4,434.5L120.5,433.7L122.7,432.9L125.1,432.0M186.8,484.9L186.5,485.0M200.1,399.6L203.0,401.8L206.0,403.9L208.9,406.0L211.8,408.1M95.4,411.0L95.7,413.7L96.0,416.4L96.3,419.0L96.7,421.6M232.6,462.9L231.7,465.0L230.8,467.0L229.8,468.9L228.8,470.6M256.8,372.2L256.8,375.3L256.8,378.5L256.7,381.7L256.6,384.9M107.4,415.2L109.3,414.2L111.3,413.1L113.4,412.0L115.6,410.8M149.5,323.1L148.8,325.5L148.1,328.1L147.4,330.7L146.7,333.4M126.4,391.9L128.9,394.0L131.4,396.1L134.0,398.2L136.7,400.3M165.5,359.3L165.0,362.8L164.6,366.3L164.2,369.9L163.7,373.5M235.0,410.0L234.6,413.5L234.1,416.9L233.6,420.3L233.1,423.7M205.6,321.2L208.4,322.8L211.1,324.5L213.9,326.2L216.6,328.0M226.0,387.5L225.7,391.1L225.4,394.7L225.0,398.3L224.6,401.9M146.9,423.0L146.7,426.4L146.6,429.8L146.5,433.1L146.4,436.3M92.6,403.6L92.8,405.4L93.3,407.3L94.3,409.1L95.4,411.0M256.1,337.8L257.3,339.4M237.7,381.8L240.2,384.0L242.6,386.1L245.0,388.1L247.3,390.2M268.6,427.2L267.6,429.6L266.5,431.9L265.5,434.2L264.3,436.4M194.1,324.5L197.1,323.6L200.0,322.7L202.8,321.9L205.6,321.2M215.7,364.6L215.4,368.1L215.2,371.6L214.9,375.2L214.7,378.8M146.4,436.3L149.2,438.4L152.1,440.4L154.9,442.5L157.8,444.5M115.1,454.3L116.9,456.3L118.8,458.2L120.7,460.0L122.7,461.9M163.7,310.3L163.1,312.1L162.5,314.0L161.9,316.0L161.3,318.1M127.0,453.7L127.4,456.0L127.8,458.2L128.3,460.3L128.8,462.2M128.8,462.2L131.1,464.0L133.5,465.7L135.9,467.4L138.4,469.0M265.9,423.0L266.8,424.2L267.6,425.3L268.4,426.4L268.6,427.2M167.9,483.7L168.1,483.7M247.5,458.8L249.3,457.1L251.0,455.2L252.7,453.4L254.2,451.6M246.3,447.1L248.6,445.4L250.9,443.8L253.2,442.1L255.3,440.5M127.4,334.9L129.2,335.9L131.0,337.0L133.0,338.2L135.1,339.4M206.0,448.8L209.2,447.4L212.3,446.0L215.5,444.5L218.6,443.0M117.2,330.5L117.4,330.2M242.0,430.3L244.6,428.7L247.2,427.1L249.7,425.5L252.1,423.9M107.4,415.2L107.5,418.2L107.6,421.2L107.8,424.1L108.1,427.0M100.7,395.1L102.4,393.8L104.2,392.5L106.1,391.2L108.2,389.8M109.6,376.9L111.8,375.4L114.2,373.8L116.6,372.3L119.1,370.7M140.6,474.3L142.9,475.5L145.3,476.7L147.7,477.7L150.1,478.7M272.7,373.2L273.1,375.1M94.7,371.5L94.6,372.5L95.2,373.8L96.0,375.1L96.9,376.5M205.7,313.0L205.7,314.8L205.7,316.8L205.7,318.9L205.6,321.2M175.7,382.1L179.1,380.5L182.6,379.0L186.0,377.5L189.4,375.9M100.7,395.1L100.6,398.1L100.5,401.2L100.4,404.2L100.5,407.2M108.1,427.0L110.0,429.0L112.1,431.1L114.2,433.2L116.4,435.3M196.8,428.6L196.3,432.1L195.9,435.5L195.5,438.8L195.0,442.0M228.8,470.6L230.4,470.9L231.8,471.2L232.7,470.7L233.5,470.1M156.5,339.1L156.0,342.2L155.4,345.3L154.9,348.5L154.4,351.8M225.4,317.6L225.8,319.4L226.1,321.3L226.4,323.4L226.7,325.6M150.1,478.7L151.9,479.4L153.8,480.0L155.9,480.0L158.2,479.9M145.0,312.5L147.6,311.4L150.2,310.2L152.9,309.1L155.5,308.1M247.5,458.8L246.0,460.3L244.5,461.7L243.1,463.0M108.2,389.8L110.0,391.7L112.0,393.6L114.0,395.6L116.2,397.5M220.9,430.0L220.3,433.4L219.8,436.6L219.2,439.8L218.6,443.0M174.8,306.9L177.2,307.6L179.6,308.5L182.0,309.4L184.5,310.5M263.8,368.3L265.5,370.4L267.0,372.3L268.5,374.3L269.9,376.2M226.0,387.5L229.0,386.0L232.0,384.6L234.9,383.2L237.7,381.8M256.8,372.2L258.7,371.1L260.5,370.2L262.2,369.2L263.8,368.3M259.4,443.7L261.1,442.1L262.2,440.1L263.3,438.2L264.3,436.4M247.5,351.8L249.6,351.0L251.5,350.3L253.4,349.7L255.1,349.1M227.7,346.9L230.4,346.0L233.0,345.1L235.4,344.2L237.8,343.5M269.9,376.2L270.0,379.1L270.1,382.0L270.1,384.9L270.1,387.8M163.7,310.3L166.5,309.4L169.3,308.5L172.1,307.6L174.8,306.9M271.5,368.4L272.1,370.8L272.7,373.2M127.9,378.0L130.8,376.4L133.7,374.9L136.7,373.3L139.7,371.7M149.5,323.1L152.4,321.8L155.4,320.5L158.3,319.3L161.3,318.1M186.4,405.8L189.8,404.2L193.2,402.7L196.7,401.1L200.1,399.6M157.4,456.0L160.2,457.8L163.0,459.6L165.8,461.2L168.6,462.9M189.9,473.8L192.3,474.8L194.7,475.8L197.1,476.7L199.4,477.5M104.0,438.9L104.2,439.1L104.5,439.2M105.9,358.9L107.9,357.2L110.0,355.6L112.1,354.0L114.4,352.3M214.0,307.2L215.8,307.9M242.0,430.3L241.3,433.5L240.6,436.5L239.9,439.5L239.2,442.5M116.2,397.5L116.0,400.9L115.8,404.2L115.7,407.5L115.6,410.8M117.4,330.2L119.2,328.4L121.1,326.6L123.2,325.0L125.4,323.5M233.2,317.4L235.5,319.0L237.8,320.6L240.0,322.3L242.2,324.0M257.3,339.4L258.7,341.4L260.1,343.5M191.5,464.9L194.6,463.8L197.7,462.6L200.8,461.4L203.8,460.1M213.4,464.9L212.8,467.2L212.1,469.4L211.4,471.4L210.7,473.4M206.7,305.0L209.1,305.7L211.6,306.4L214.0,307.2M270.1,387.8L271.3,389.6L272.4,391.3L273.4,393.0L274.3,394.7M253.1,339.4L253.7,341.7L254.2,344.1L254.6,346.5L255.1,349.1M92.0,393.0L92.0,395.7L92.1,398.4L92.3,401.0L92.6,403.6M117.6,341.4L116.7,344.0L115.9,346.7L115.1,349.5L114.4,352.3M96.6,422.2L96.5,421.9L96.7,421.6M163.7,373.5L166.7,375.6L169.7,377.8L172.7,379.9L175.7,382.1M211.8,408.1L211.4,411.8L211.0,415.4L210.5,419.0L210.1,422.5M141.8,358.0L144.9,356.4L148.0,354.9L151.2,353.3L154.4,351.8M170.3,439.7L173.3,441.7L176.2,443.6L179.1,445.5L182.0,447.4M268.6,427.2L269.3,425.4L269.9,423.7M141.8,358.0L141.2,361.4L140.7,364.8L140.2,368.2L139.7,371.7M204.7,343.0L207.8,341.9L210.8,340.8L213.8,339.8L216.6,338.8M146.5,459.1L149.1,458.4L151.8,457.7L154.6,456.9L157.4,456.0M191.5,464.9L191.1,467.3L190.7,469.6L190.3,471.7L189.9,473.8M135.8,414.4L138.5,416.5L141.3,418.7L144.1,420.9L146.9,423.0M157.6,474.0L160.1,473.6L162.7,473.1L165.4,472.5L168.1,471.9M125.1,432.0L127.6,434.1L130.1,436.2L132.7,438.3L135.4,440.3M160.7,403.1L160.4,406.8L160.1,410.4L159.8,414.1L159.5,417.7M161.3,318.1L163.6,319.2L166.1,320.3L168.6,321.5L171.1,322.8M102.0,354.6L102.8,355.5L103.7,356.6L104.8,357.7L105.9,358.9M176.6,302.3L179.1,302.1L181.6,302.0L184.1,302.0L186.4,302.0M207.2,481.9L209.6,481.2L212.1,480.4L214.6,479.5M218.6,443.0L221.1,444.5L223.5,446.0L225.8,447.4L228.0,448.8M136.7,400.3L136.4,403.9L136.2,407.4L136.0,410.9L135.8,414.4M121.4,357.8L124.0,356.2L126.7,354.6L129.5,353.0L132.3,351.4M136.7,400.3L139.7,398.8L142.7,397.4L145.9,395.9L149.0,394.4M106.0,344.9L105.9,345.1M225.4,317.6L227.5,317.4L229.5,317.3L231.4,317.3L233.2,317.4M127.0,453.7L129.0,453.3L131.2,452.8L133.5,452.2L135.9,451.5M196.8,428.6L200.1,427.1L203.4,425.6L206.8,424.1L210.1,422.5M137.4,314.5L139.7,313.2M100.5,407.2L102.0,409.1L103.7,411.1L105.5,413.1L107.4,415.2M263.7,349.4L264.7,351.4L265.7,353.4L266.7,355.5M254.3,411.1L253.8,414.4L253.3,417.6L252.7,420.8L252.1,423.9M254.3,411.1L256.5,409.6L258.7,408.1L260.8,406.6L262.7,405.2M139.7,371.7L142.3,373.7L145.0,375.7L147.8,377.7L150.6,379.8M190.8,361.5L194.1,360.1L197.4,358.7L200.7,357.4L203.9,356.0M199.4,477.5L202.2,476.5L205.0,475.5L207.9,474.5L210.7,473.4M237.8,343.5L240.3,345.5L242.8,347.6L245.2,349.7L247.5,351.8M180.4,340.4L180.0,343.5L179.6,346.7L179.2,350.0L178.9,353.4M233.5,470.1L235.6,468.7M158.2,479.9L160.6,481.0L163.1,482.0L165.5,483.0L167.9,483.7M262.6,357.3L263.9,356.7L265.0,356.2L266.1,355.8L266.7,355.5M262.7,405.2L264.2,406.9L265.6,408.5L266.9,410.0L268.1,411.5M253.1,339.4L254.5,339.1L255.8,339.0L256.9,338.9L257.3,339.4M154.4,351.8L157.1,353.6L159.8,355.4L162.6,357.3L165.5,359.3M216.6,328.0L219.2,327.3L221.8,326.7L224.3,326.1L226.7,325.6M274.3,394.7L275.0,393.5L275.0,392.4M157.8,444.5L160.9,443.3L164.0,442.2L167.1,441.0L170.3,439.7M171.1,322.8L174.2,321.7L177.2,320.6L180.3,319.6L183.2,318.6M273.4,405.8L274.0,407.2L273.8,408.4L273.6,409.6M141.5,319.7L143.3,320.5L145.3,321.3L147.4,322.2L149.5,323.1M116.4,435.3L116.7,438.0L117.0,440.7L117.4,443.3L117.8,445.8M258.4,429.5L260.4,427.8L262.3,426.2L264.2,424.6L265.9,423.0M111.6,447.1L113.0,446.9L114.4,446.6L116.0,446.2L117.8,445.8M186.4,405.8L186.0,409.5L185.6,413.2L185.3,416.8L184.9,420.4M115.6,410.8L117.8,412.9L120.2,415.0L122.5,417.1L125.0,419.3M105.9,345.1L107.2,343.2L109.0,341.5L110.8,339.8L112.7,338.2M135.1,339.4L134.3,342.3L133.6,345.3L133.0,348.3L132.3,351.4M239.2,442.5L241.1,443.7L242.9,444.9L244.6,446.0L246.3,447.1M228.0,448.8L230.9,447.2L233.7,445.7L236.5,444.1L239.2,442.5M184.5,310.5L187.3,309.8L190.0,309.1L192.7,308.6L195.4,308.1M274.3,394.7L274.2,397.5L273.9,400.3L273.7,403.1L273.4,405.8M105.9,345.1L104.6,347.2L103.7,349.6L102.8,352.0L102.0,354.6M122.7,461.9L123.8,462.3L125.4,462.3L127.0,462.3L128.8,462.2M95.4,411.0L96.5,410.1L97.7,409.2L99.0,408.2L100.5,407.2M131.0,325.5L133.5,324.0L136.1,322.5L138.8,321.1L141.5,319.7M175.7,382.1L175.3,385.8L174.9,389.5L174.6,393.3L174.2,397.0M242.2,324.0L243.5,324.4L244.3,325.1M172.5,302.7L174.5,302.4L176.6,302.3M109.6,376.9L109.2,380.1L108.8,383.3L108.5,386.6L108.2,389.8M216.6,338.8L219.5,340.8L222.2,342.8L225.0,344.8L227.7,346.9M201.5,384.7L204.9,383.2L208.2,381.7L211.4,380.2L214.7,378.8M169.2,333.6L172.0,335.2L174.7,336.9L177.5,338.6L180.4,340.4M116.2,397.5L118.6,396.2L121.1,394.8L123.7,393.4L126.4,391.9M238.2,368.2L240.8,367.0L243.4,365.9L245.8,364.8L248.1,363.8M236.8,333.0L238.9,332.6L240.9,332.2L242.8,331.9L244.6,331.6M262.6,357.3L263.0,360.0L263.3,362.7L263.6,365.5L263.8,368.3M139.1,473.5L140.6,474.3M168.6,462.9L171.6,462.0L174.6,461.0L177.6,460.0L180.7,458.9M247.5,351.8L247.7,354.7L247.9,357.6L248.0,360.7L248.1,363.8M92.0,391.5L92.0,393.0M104.5,439.2L106.2,441.2L107.9,443.2L109.7,445.1L111.6,447.1M247.3,390.2L249.8,388.8L252.2,387.5L254.4,386.2L256.6,384.9M180.7,458.9L183.5,460.5L186.2,462.0L188.9,463.5L191.5,464.9M184.9,420.4L187.9,422.5L190.9,424.6L193.8,426.6L196.8,428.6M266.7,355.5L267.7,357.6L268.5,359.7L269.3,361.8M160.7,403.1L164.0,401.6L167.4,400.1L170.8,398.6L174.2,397.0M102.4,429.6L102.8,432.1L103.4,434.5L103.9,436.9L104.5,439.2M228.0,448.8L227.3,451.6L226.6,454.3L225.8,456.9L225.0,459.4M183.2,318.6L185.9,320.0L188.6,321.4L191.4,322.9L194.1,324.5M95.6,388.1L96.7,389.8L97.9,391.5L99.3,393.3L100.7,395.1M156.5,339.1L159.7,337.7L162.9,336.3L166.1,334.9L169.2,333.6M256.6,384.9L258.6,386.9L260.4,388.8L262.2,390.8L263.8,392.6M252.1,423.9L253.9,425.4L255.5,426.8L257.0,428.2L258.4,429.5M215.7,364.6L218.7,363.3L221.8,362.0L224.7,360.8L227.6,359.6M92.0,393.0L92.3,391.8L93.3,390.6L94.4,389.4L95.6,388.1M103.5,370.6L104.8,372.0L106.3,373.6L107.9,375.2L109.6,376.9M189.4,375.9L192.4,378.1L195.5,380.3L198.5,382.5L201.5,384.7M182.0,447.4L181.7,450.4L181.3,453.3L181.0,456.2L180.7,458.9M105.9,358.9L105.2,361.7L104.6,364.6L104.0,367.6L103.5,370.6M242.6,456.8L244.0,457.5L245.3,458.0L246.4,458.5L247.5,458.8M226.7,325.6L229.2,327.4L231.8,329.3L234.3,331.1L236.8,333.0M135.4,440.3L135.4,443.3L135.6,446.1L135.7,448.9L135.9,451.5M149.0,394.4L151.9,396.6L154.8,398.7L157.7,400.9L160.7,403.1M238.2,368.2L238.1,371.5L238.0,374.9L237.9,378.4L237.7,381.8M218.5,475.6L217.6,477.1L216.8,478.4L215.7,479.1L214.6,479.5M227.6,359.6L230.3,361.7L233.0,363.9L235.7,366.0L238.2,368.2M231.5,315.6L232.5,316.2L233.2,317.4M157.8,444.5L157.7,447.5L157.6,450.4L157.5,453.3L157.4,456.0M268.1,411.5L267.6,414.4L267.0,417.3L266.5,420.2L265.9,423.0M127.9,378.0L127.5,381.5L127.1,384.9L126.8,388.4L126.4,391.9M135.1,339.4L137.9,337.9L140.8,336.4L143.7,334.9L146.7,333.4M96.7,421.6L98.0,423.6L99.3,425.5L100.8,427.5L102.4,429.6M147.2,468.0L149.8,469.6L152.4,471.1L155.0,472.6L157.6,474.0M218.5,475.6L221.1,474.4L223.7,473.2L226.3,471.9L228.8,470.6M232.6,462.9L235.2,461.4L237.7,459.9L240.2,458.4L242.6,456.8M150.6,379.8L153.8,378.2L157.1,376.7L160.4,375.1L163.7,373.5M206.0,448.8L205.5,451.8L204.9,454.7L204.4,457.4L203.8,460.1M242.2,324.0L242.9,325.8L243.5,327.6L244.1,329.5L244.6,331.6M263.8,392.6L265.6,391.4L267.2,390.1L268.7,388.9L270.1,387.8M157.6,474.0L157.7,475.7L157.8,477.2L158.0,478.7L158.2,479.9M167.9,483.7L170.2,483.7L172.7,483.4L175.2,483.1L177.7,482.8M97.8,361.5L98.5,359.7L99.2,357.9L100.4,356.2L102.0,354.6M158.1,305.6L157.1,305.9L156.3,306.8L155.5,308.1M235.0,410.0L237.9,408.4L240.7,406.9L243.4,405.4L246.1,403.8M122.7,461.9L123.9,462.9M178.5,476.9L178.3,478.6L178.1,480.1L177.9,481.5L177.7,482.8M111.6,447.1L112.3,449.2L112.9,451.3L113.9,452.9L115.1,454.3M204.7,343.0L204.6,346.2L204.4,349.4L204.1,352.7L203.9,356.0M210.7,473.4L212.8,474.0L214.8,474.7L216.7,475.2L218.5,475.6M176.6,302.3L176.1,303.0L175.7,304.2L175.3,305.4L174.8,306.9M138.4,469.0L138.8,470.6L139.3,472.1L139.8,473.5L140.6,474.3" fill="none" stroke="#4c4c4a" stroke-width="2.0" stroke-linecap="round" stroke-linejoin="round"/>
<circle cx="183.5" cy="393.5" r="91.5" fill="none" stroke="#5a5a5a" stroke-width="1.2"/>
<circle cx="128.8" cy="368.8" r="2.8" fill="url(#gR)"/>
<circle cx="134.2" cy="369.1" r="2.8" fill="url(#gR)"/>
<circle cx="131.6" cy="372.9" r="2.8" fill="url(#gR)"/>
<circle cx="131.3" cy="366.3" r="2.8" fill="url(#gR)"/>
<circle cx="236.9" cy="378.2" r="2.8" fill="url(#gR)"/>
<circle cx="242.3" cy="378.5" r="2.8" fill="url(#gR)"/>
<circle cx="239.7" cy="382.3" r="2.8" fill="url(#gR)"/>
<circle cx="239.4" cy="375.7" r="2.8" fill="url(#gR)"/>
<circle cx="223.2" cy="427.5" r="2.8" fill="url(#gR)"/>
<circle cx="228.6" cy="427.8" r="2.8" fill="url(#gR)"/>
<circle cx="226.0" cy="431.6" r="2.8" fill="url(#gR)"/>
<circle cx="225.7" cy="425.0" r="2.8" fill="url(#gR)"/>
<circle cx="121.8" cy="445.3" r="2.8" fill="url(#gR)"/>
<circle cx="127.2" cy="445.6" r="2.8" fill="url(#gR)"/>
<circle cx="124.6" cy="449.4" r="2.8" fill="url(#gR)"/>
<circle cx="124.3" cy="442.8" r="2.8" fill="url(#gR)"/>
<polygon points="123.9,366.5 106.8,363.9 107.3,360.2 96.5,364.9 105.4,372.6 106.0,368.9 123.1,371.5" fill="#f20d12"/>
<polygon points="252.5,379.5 264.1,377.3 264.8,381.0 273.5,373.0 262.5,368.7 263.2,372.4 251.5,374.5" fill="#f20d12"/>
<polygon points="125.9,443.4 100.6,453.6 99.2,450.1 92.3,459.7 103.9,461.7 102.5,458.3 127.7,448.0" fill="#f20d12"/>
<polygon points="233.7,435.6 249.2,443.4 247.6,446.8 259.3,445.7 253.2,435.6 251.5,439.0 235.9,431.2" fill="#f20d12"/>
<text font-family="Liberation Sans, sans-serif" font-weight="bold" font-size="24.5" fill="#e01818" x="76.3" y="365">e<tspan font-size="15" dy="-7.5" dx="-0.5">-</tspan></text>
<text font-family="Liberation Sans, sans-serif" font-weight="bold" font-size="24.5" fill="#e01818" x="280.5" y="362.3">e<tspan font-size="15" dy="-7.5" dx="-0.5">-</tspan></text>
<text font-family="Liberation Sans, sans-serif" font-weight="bold" font-size="24.5" fill="#e01818" x="71.2" y="466">e<tspan font-size="15" dy="-7.5" dx="-0.5">-</tspan></text>
<text font-family="Liberation Sans, sans-serif" font-weight="bold" font-size="24.5" fill="#e01818" x="273.8" y="458.3">e<tspan font-size="15" dy="-7.5" dx="-0.5">-</tspan></text>
<line x1="151.7" y1="273.4" x2="138.4" y2="261.1" stroke="#c4c4c4" stroke-width="2.2" stroke-linecap="round"/>
<line x1="151.7" y1="273.4" x2="165.1" y2="261.1" stroke="#c4c4c4" stroke-width="2.2" stroke-linecap="round"/>
<circle cx="138.4" cy="261.1" r="3.9" fill="url(#gH)"/>
<circle cx="165.1" cy="261.1" r="3.9" fill="url(#gH)"/>
<circle cx="151.7" cy="273.4" r="6.1" fill="url(#gS)"/>
<circle cx="222.4" cy="270" r="7.6" fill="url(#gS)"/>
<path d="M149,282.2 L153.6,282.2 Q157.5,296.5 176.5,302 Q152.5,299.5 149,282.2 Z" fill="#2a9bd0"/>
<path d="M190.5,301.3 Q202,298.5 209.5,288.8 L216.5,289.5 Q207,301.5 190.5,301.6 Z" fill="#2fa5d8"/>
<polygon points="218.2,282 207,289.2 221,289.8" fill="#2fa5d8"/>
<ellipse cx="474.7" cy="381.4" rx="115.5" ry="102.7" fill="none" stroke="#1a1a1a" stroke-width="1.1" stroke-dasharray="4.2 3"/>
<circle cx="490.8" cy="319" r="19.4" fill="url(#gC)"/>
<circle cx="530" cy="336.5" r="19.4" fill="url(#gC)"/>
<circle cx="421.5" cy="348.7" r="19.4" fill="url(#gC)"/>
<circle cx="446.7" cy="357.5" r="19.4" fill="url(#gC)"/>
<circle cx="495" cy="354" r="19.4" fill="url(#gC)"/>
<circle cx="546.7" cy="366.2" r="19.4" fill="url(#gC)"/>
<circle cx="411" cy="391.8" r="19.4" fill="url(#gC)"/>
<circle cx="460" cy="396" r="19.4" fill="url(#gC)"/>
<circle cx="516.7" cy="392.5" r="19.4" fill="url(#gC)"/>
<circle cx="552.7" cy="404.7" r="19.4" fill="url(#gC)"/>
<circle cx="460" cy="413.5" r="19.4" fill="url(#gC)"/>
<circle cx="486.2" cy="417" r="19.4" fill="url(#gC)"/>
<circle cx="434.8" cy="427.5" r="19.4" fill="url(#gC)"/>
<circle cx="533.4" cy="437.2" r="19.4" fill="url(#gC)"/>
<circle cx="479.2" cy="459" r="19.4" fill="url(#gC)"/>
<path d="M407.5,310.2Q419.7,319.0 425.0,324.2Q430.2,329.5 436.4,333.0Q442.5,336.5 451.2,335.6Q460.0,334.7 466.1,332.5L472.2,330.2" fill="none" stroke="#929292" stroke-width="4.8" stroke-linecap="round" opacity="0.58"/>
<path d="M407.5,310.2Q419.7,319.0 425.0,324.2Q430.2,329.5 436.4,333.0Q442.5,336.5 451.2,335.6Q460.0,334.7 466.1,332.5L472.2,330.2" fill="none" stroke="#d0d0d0" stroke-width="2.8" stroke-linecap="round" opacity="0.48"/>
<path d="M407.5,310.2Q419.7,319.0 425.0,324.2Q430.2,329.5 436.4,333.0Q442.5,336.5 451.2,335.6Q460.0,334.7 466.1,332.5L472.2,330.2" fill="none" stroke="#ffffff" stroke-width="0.9" stroke-linecap="round" opacity="0.25"/>
<circle cx="413.6" cy="314.6" r="1.5" fill="#8fac36" opacity="0.8"/>
<circle cx="425.0" cy="324.2" r="1.5" fill="#8fac36" opacity="0.8"/>
<circle cx="436.4" cy="333.0" r="1.5" fill="#8fac36" opacity="0.8"/>
<circle cx="451.2" cy="335.6" r="1.5" fill="#8fac36" opacity="0.8"/>
<circle cx="466.1" cy="332.5" r="1.5" fill="#8fac36" opacity="0.8"/>
<path d="M384.7,328.8Q400.5,326.0 407.5,326.9Q414.5,327.7 422.4,329.5Q430.2,331.2 438.1,333.0L446.0,334.7" fill="none" stroke="#929292" stroke-width="4.8" stroke-linecap="round" opacity="0.58"/>
<path d="M384.7,328.8Q400.5,326.0 407.5,326.9Q414.5,327.7 422.4,329.5Q430.2,331.2 438.1,333.0L446.0,334.7" fill="none" stroke="#d0d0d0" stroke-width="2.8" stroke-linecap="round" opacity="0.48"/>
<path d="M384.7,328.8Q400.5,326.0 407.5,326.9Q414.5,327.7 422.4,329.5Q430.2,331.2 438.1,333.0L446.0,334.7" fill="none" stroke="#ffffff" stroke-width="0.9" stroke-linecap="round" opacity="0.25"/>
<circle cx="392.6" cy="327.4" r="1.5" fill="#8fac36" opacity="0.8"/>
<circle cx="407.5" cy="326.9" r="1.5" fill="#8fac36" opacity="0.8"/>
<circle cx="422.4" cy="329.5" r="1.5" fill="#8fac36" opacity="0.8"/>
<circle cx="438.1" cy="333.0" r="1.5" fill="#8fac36" opacity="0.8"/>
<path d="M477.5,296.2Q480.3,308.5 481.5,315.5Q482.7,322.5 484.5,336.5Q486.2,350.5 485.0,359.2Q483.8,368.0 482.4,373.2L481.0,378.5" fill="none" stroke="#929292" stroke-width="4.8" stroke-linecap="round" opacity="0.58"/>
<path d="M477.5,296.2Q480.3,308.5 481.5,315.5Q482.7,322.5 484.5,336.5Q486.2,350.5 485.0,359.2Q483.8,368.0 482.4,373.2L481.0,378.5" fill="none" stroke="#d0d0d0" stroke-width="2.8" stroke-linecap="round" opacity="0.48"/>
<path d="M477.5,296.2Q480.3,308.5 481.5,315.5Q482.7,322.5 484.5,336.5Q486.2,350.5 485.0,359.2Q483.8,368.0 482.4,373.2L481.0,378.5" fill="none" stroke="#ffffff" stroke-width="0.9" stroke-linecap="round" opacity="0.25"/>
<circle cx="478.9" cy="302.4" r="1.5" fill="#8fac36" opacity="0.8"/>
<circle cx="481.5" cy="315.5" r="1.5" fill="#8fac36" opacity="0.8"/>
<circle cx="484.5" cy="336.5" r="1.5" fill="#8fac36" opacity="0.8"/>
<circle cx="485.0" cy="359.2" r="1.5" fill="#8fac36" opacity="0.8"/>
<circle cx="482.4" cy="373.2" r="1.5" fill="#8fac36" opacity="0.8"/>
<path d="M557.9,334.7Q543.9,345.2 536.9,348.7Q529.9,352.2 519.5,355.7Q509.0,359.2 502.0,362.2Q495.0,365.2 482.7,372.2Q470.5,379.2 460.0,385.8Q449.5,392.5 442.5,397.4Q435.5,402.3 430.2,409.6L425.0,417.0" fill="none" stroke="#929292" stroke-width="4.8" stroke-linecap="round" opacity="0.58"/>
<path d="M557.9,334.7Q543.9,345.2 536.9,348.7Q529.9,352.2 519.5,355.7Q509.0,359.2 502.0,362.2Q495.0,365.2 482.7,372.2Q470.5,379.2 460.0,385.8Q449.5,392.5 442.5,397.4Q435.5,402.3 430.2,409.6L425.0,417.0" fill="none" stroke="#d0d0d0" stroke-width="2.8" stroke-linecap="round" opacity="0.48"/>
<path d="M557.9,334.7Q543.9,345.2 536.9,348.7Q529.9,352.2 519.5,355.7Q509.0,359.2 502.0,362.2Q495.0,365.2 482.7,372.2Q470.5,379.2 460.0,385.8Q449.5,392.5 442.5,397.4Q435.5,402.3 430.2,409.6L425.0,417.0" fill="none" stroke="#ffffff" stroke-width="0.9" stroke-linecap="round" opacity="0.25"/>
<circle cx="550.9" cy="340.0" r="1.5" fill="#8fac36" opacity="0.8"/>
<circle cx="536.9" cy="348.7" r="1.5" fill="#8fac36" opacity="0.8"/>
<circle cx="519.5" cy="355.7" r="1.5" fill="#8fac36" opacity="0.8"/>
<circle cx="502.0" cy="362.2" r="1.5" fill="#8fac36" opacity="0.8"/>
<circle cx="482.7" cy="372.2" r="1.5" fill="#8fac36" opacity="0.8"/>
<circle cx="460.0" cy="385.8" r="1.5" fill="#8fac36" opacity="0.8"/>
<circle cx="442.5" cy="397.4" r="1.5" fill="#8fac36" opacity="0.8"/>
<circle cx="430.2" cy="409.6" r="1.5" fill="#8fac36" opacity="0.8"/>
<path d="M563.2,383.7Q543.9,389.7 533.4,392.8Q522.9,396.0 512.5,397.7Q502.0,399.5 495.0,402.1Q488.0,404.7 481.0,407.7Q474.0,410.7 467.0,414.7Q460.0,418.7 451.2,421.7Q442.5,424.7 433.7,429.6Q425.0,434.5 419.7,438.3L414.5,442.1" fill="none" stroke="#929292" stroke-width="4.8" stroke-linecap="round" opacity="0.58"/>
<path d="M563.2,383.7Q543.9,389.7 533.4,392.8Q522.9,396.0 512.5,397.7Q502.0,399.5 495.0,402.1Q488.0,404.7 481.0,407.7Q474.0,410.7 467.0,414.7Q460.0,418.7 451.2,421.7Q442.5,424.7 433.7,429.6Q425.0,434.5 419.7,438.3L414.5,442.1" fill="none" stroke="#d0d0d0" stroke-width="2.8" stroke-linecap="round" opacity="0.48"/>
<path d="M563.2,383.7Q543.9,389.7 533.4,392.8Q522.9,396.0 512.5,397.7Q502.0,399.5 495.0,402.1Q488.0,404.7 481.0,407.7Q474.0,410.7 467.0,414.7Q460.0,418.7 451.2,421.7Q442.5,424.7 433.7,429.6Q425.0,434.5 419.7,438.3L414.5,442.1" fill="none" stroke="#ffffff" stroke-width="0.9" stroke-linecap="round" opacity="0.25"/>
<circle cx="553.6" cy="386.7" r="1.5" fill="#8fac36" opacity="0.8"/>
<circle cx="533.4" cy="392.8" r="1.5" fill="#8fac36" opacity="0.8"/>
<circle cx="512.5" cy="397.7" r="1.5" fill="#8fac36" opacity="0.8"/>
<circle cx="495.0" cy="402.1" r="1.5" fill="#8fac36" opacity="0.8"/>
<circle cx="481.0" cy="407.7" r="1.5" fill="#8fac36" opacity="0.8"/>
<circle cx="467.0" cy="414.7" r="1.5" fill="#8fac36" opacity="0.8"/>
<circle cx="451.2" cy="421.7" r="1.5" fill="#8fac36" opacity="0.8"/>
<circle cx="433.7" cy="429.6" r="1.5" fill="#8fac36" opacity="0.8"/>
<circle cx="419.7" cy="438.3" r="1.5" fill="#8fac36" opacity="0.8"/>
<path d="M404.0,354.0Q418.0,366.2 424.1,370.6Q430.2,375.0 433.2,381.1Q436.2,387.2 437.6,393.7L439.0,400.2" fill="none" stroke="#929292" stroke-width="4.8" stroke-linecap="round" opacity="0.58"/>
<path d="M404.0,354.0Q418.0,366.2 424.1,370.6Q430.2,375.0 433.2,381.1Q436.2,387.2 437.6,393.7L439.0,400.2" fill="none" stroke="#d0d0d0" stroke-width="2.8" stroke-linecap="round" opacity="0.48"/>
<path d="M404.0,354.0Q418.0,366.2 424.1,370.6Q430.2,375.0 433.2,381.1Q436.2,387.2 437.6,393.7L439.0,400.2" fill="none" stroke="#ffffff" stroke-width="0.9" stroke-linecap="round" opacity="0.25"/>
<circle cx="411.0" cy="360.1" r="1.5" fill="#8fac36" opacity="0.8"/>
<circle cx="424.1" cy="370.6" r="1.5" fill="#8fac36" opacity="0.8"/>
<circle cx="433.2" cy="381.1" r="1.5" fill="#8fac36" opacity="0.8"/>
<circle cx="437.6" cy="393.7" r="1.5" fill="#8fac36" opacity="0.8"/>
<path d="M484.5,385.5Q489.7,397.7 490.6,403.8Q491.5,410.0 489.7,417.0Q488.0,424.0 486.2,431.0Q484.5,437.9 483.1,448.4Q481.7,458.9 480.4,469.4L479.2,479.9" fill="none" stroke="#929292" stroke-width="4.8" stroke-linecap="round" opacity="0.58"/>
<path d="M484.5,385.5Q489.7,397.7 490.6,403.8Q491.5,410.0 489.7,417.0Q488.0,424.0 486.2,431.0Q484.5,437.9 483.1,448.4Q481.7,458.9 480.4,469.4L479.2,479.9" fill="none" stroke="#d0d0d0" stroke-width="2.8" stroke-linecap="round" opacity="0.48"/>
<path d="M484.5,385.5Q489.7,397.7 490.6,403.8Q491.5,410.0 489.7,417.0Q488.0,424.0 486.2,431.0Q484.5,437.9 483.1,448.4Q481.7,458.9 480.4,469.4L479.2,479.9" fill="none" stroke="#ffffff" stroke-width="0.9" stroke-linecap="round" opacity="0.25"/>
<circle cx="487.1" cy="391.6" r="1.5" fill="#8fac36" opacity="0.8"/>
<circle cx="490.6" cy="403.8" r="1.5" fill="#8fac36" opacity="0.8"/>
<circle cx="489.7" cy="417.0" r="1.5" fill="#8fac36" opacity="0.8"/>
<circle cx="486.2" cy="431.0" r="1.5" fill="#8fac36" opacity="0.8"/>
<circle cx="483.1" cy="448.4" r="1.5" fill="#8fac36" opacity="0.8"/>
<circle cx="480.4" cy="469.4" r="1.5" fill="#8fac36" opacity="0.8"/>
<path d="M488.0,392.5Q498.5,406.5 502.0,411.7Q505.5,417.0 512.5,425.4Q519.5,433.8 524.7,436.7Q529.9,439.7 535.2,442.0L540.4,444.2" fill="none" stroke="#929292" stroke-width="4.8" stroke-linecap="round" opacity="0.58"/>
<path d="M488.0,392.5Q498.5,406.5 502.0,411.7Q505.5,417.0 512.5,425.4Q519.5,433.8 524.7,436.7Q529.9,439.7 535.2,442.0L540.4,444.2" fill="none" stroke="#d0d0d0" stroke-width="2.8" stroke-linecap="round" opacity="0.48"/>
<path d="M488.0,392.5Q498.5,406.5 502.0,411.7Q505.5,417.0 512.5,425.4Q519.5,433.8 524.7,436.7Q529.9,439.7 535.2,442.0L540.4,444.2" fill="none" stroke="#ffffff" stroke-width="0.9" stroke-linecap="round" opacity="0.25"/>
<circle cx="493.2" cy="399.5" r="1.5" fill="#8fac36" opacity="0.8"/>
<circle cx="502.0" cy="411.7" r="1.5" fill="#8fac36" opacity="0.8"/>
<circle cx="512.5" cy="425.4" r="1.5" fill="#8fac36" opacity="0.8"/>
<circle cx="524.7" cy="436.7" r="1.5" fill="#8fac36" opacity="0.8"/>
<circle cx="535.2" cy="442.0" r="1.5" fill="#8fac36" opacity="0.8"/>
<path d="M506.2,293.8Q503.4,298.7 501.6,301.5L499.9,304.3" fill="none" stroke="#929292" stroke-width="4.8" stroke-linecap="round" opacity="0.58"/>
<path d="M506.2,293.8Q503.4,298.7 501.6,301.5L499.9,304.3" fill="none" stroke="#d0d0d0" stroke-width="2.8" stroke-linecap="round" opacity="0.48"/>
<path d="M506.2,293.8Q503.4,298.7 501.6,301.5L499.9,304.3" fill="none" stroke="#ffffff" stroke-width="0.9" stroke-linecap="round" opacity="0.25"/>
<circle cx="504.8" cy="296.2" r="1.5" fill="#8fac36" opacity="0.8"/>
<circle cx="501.6" cy="301.5" r="1.5" fill="#8fac36" opacity="0.8"/>
<path d="M442.5,424.0Q456.5,424.0 463.5,422.2Q470.5,420.5 475.7,417.0Q481.0,413.5 484.5,410.0L488.0,406.5" fill="none" stroke="#929292" stroke-width="4.8" stroke-linecap="round" opacity="0.58"/>
<path d="M442.5,424.0Q456.5,424.0 463.5,422.2Q470.5,420.5 475.7,417.0Q481.0,413.5 484.5,410.0L488.0,406.5" fill="none" stroke="#d0d0d0" stroke-width="2.8" stroke-linecap="round" opacity="0.48"/>
<path d="M442.5,424.0Q456.5,424.0 463.5,422.2Q470.5,420.5 475.7,417.0Q481.0,413.5 484.5,410.0L488.0,406.5" fill="none" stroke="#ffffff" stroke-width="0.9" stroke-linecap="round" opacity="0.25"/>
<circle cx="449.5" cy="424.0" r="1.5" fill="#8fac36" opacity="0.8"/>
<circle cx="463.5" cy="422.2" r="1.5" fill="#8fac36" opacity="0.8"/>
<circle cx="475.7" cy="417.0" r="1.5" fill="#8fac36" opacity="0.8"/>
<circle cx="484.5" cy="410.0" r="1.5" fill="#8fac36" opacity="0.8"/>
<line x1="446.0" y1="319.0" x2="433.7" y2="306.0" stroke="#dcdcdc" stroke-width="2.3" stroke-linecap="round"/>
<line x1="446.0" y1="319.0" x2="460.0" y2="306.0" stroke="#dcdcdc" stroke-width="2.3" stroke-linecap="round"/>
<circle cx="433.7" cy="306.0" r="3.4" fill="url(#gH)"/>
<circle cx="460.0" cy="306.0" r="3.4" fill="url(#gH)"/>
<circle cx="446.0" cy="319.0" r="5.5" fill="url(#gS)"/>
<line x1="516.0" y1="371.5" x2="503.7" y2="359.2" stroke="#dcdcdc" stroke-width="2.3" stroke-linecap="round"/>
<line x1="516.0" y1="371.5" x2="530.0" y2="359.2" stroke="#dcdcdc" stroke-width="2.3" stroke-linecap="round"/>
<circle cx="503.7" cy="359.2" r="3.4" fill="url(#gH)"/>
<circle cx="530.0" cy="359.2" r="3.4" fill="url(#gH)"/>
<circle cx="516.0" cy="371.5" r="5.5" fill="url(#gS)"/>
<line x1="443.2" y1="387.2" x2="429.2" y2="374.3" stroke="#dcdcdc" stroke-width="2.3" stroke-linecap="round"/>
<line x1="443.2" y1="387.2" x2="456.5" y2="374.3" stroke="#dcdcdc" stroke-width="2.3" stroke-linecap="round"/>
<circle cx="429.2" cy="374.3" r="3.4" fill="url(#gH)"/>
<circle cx="456.5" cy="374.3" r="3.4" fill="url(#gH)"/>
<circle cx="443.2" cy="387.2" r="5.5" fill="url(#gS)"/>
<line x1="509.0" y1="442.2" x2="495.0" y2="431.0" stroke="#dcdcdc" stroke-width="2.3" stroke-linecap="round"/>
<line x1="509.0" y1="442.2" x2="522.3" y2="431.0" stroke="#dcdcdc" stroke-width="2.3" stroke-linecap="round"/>
<circle cx="495.0" cy="431.0" r="3.4" fill="url(#gH)"/>
<circle cx="522.3" cy="431.0" r="3.4" fill="url(#gH)"/>
<circle cx="509.0" cy="442.2" r="5.5" fill="url(#gS)"/>
<line x1="458.2" y1="454.4" x2="445.3" y2="442.2" stroke="#dcdcdc" stroke-width="2.3" stroke-linecap="round"/>
<line x1="458.2" y1="454.4" x2="471.5" y2="442.2" stroke="#dcdcdc" stroke-width="2.3" stroke-linecap="round"/>
<circle cx="445.3" cy="442.2" r="3.4" fill="url(#gH)"/>
<circle cx="471.5" cy="442.2" r="3.4" fill="url(#gH)"/>
<circle cx="458.2" cy="454.4" r="5.5" fill="url(#gS)"/>
<circle cx="540.5" cy="444.3" r="2.8" fill="url(#gH)"/>
<circle cx="422.2" cy="419.8" r="2.8" fill="url(#gH)"/>
<circle cx="413.8" cy="442.2" r="2.8" fill="url(#gH)"/>
<ellipse cx="402.5" cy="390.5" rx="4.2" ry="4.5" fill="none" stroke="#e8e8e8" stroke-width="1" stroke-dasharray="2 1.5"/>
<line x1="184.0" y1="96.0" x2="227.0" y2="79.4" stroke="#8a2222" stroke-width="1.2" opacity="0.75" stroke-dasharray="4.2 3"/>
<line x1="227.0" y1="79.4" x2="357.5" y2="29.0" stroke="#9a2e2e" stroke-width="1.2" opacity="1" stroke-dasharray="4.2 3"/>
<line x1="184.0" y1="111.5" x2="227.0" y2="128.2" stroke="#8a2222" stroke-width="1.2" opacity="0.75" stroke-dasharray="4.2 3"/>
<line x1="227.0" y1="128.2" x2="369.0" y2="183.5" stroke="#9a2e2e" stroke-width="1.2" opacity="1" stroke-dasharray="4.2 3"/>
<ellipse cx="467.7" cy="63.8" rx="6" ry="4.2" fill="none" stroke="#111" stroke-width="1.1" stroke-dasharray="3 1.6"/>
<line x1="459.8" y1="67.5" x2="365.3" y2="351" stroke="#111" stroke-width="1.15" stroke-dasharray="4.2 3"/>
<line x1="475.5" y1="68" x2="584.5" y2="352" stroke="#111" stroke-width="1.15" stroke-dasharray="4.2 3"/>
<line x1="233" y1="317.6" x2="401" y2="388" stroke="#222" stroke-width="1.05" stroke-dasharray="4.2 3"/>
<line x1="245" y1="461.2" x2="401" y2="393" stroke="#222" stroke-width="1.05" stroke-dasharray="4.2 3"/>
<g font-family="Liberation Sans, sans-serif" font-weight="bold" fill="#000">
<text x="14.5" y="230.7" font-size="21.5" textLength="322.5" lengthAdjust="spacingAndGlyphs">Portable detection instrument</text>
<text x="350.8" y="230.7" font-size="21.5" textLength="301" lengthAdjust="spacingAndGlyphs">H<tspan font-size="13" dy="4.5">2</tspan><tspan dy="-4.5">S electrochemical sensor</tspan></text>
<text x="118.3" y="526.5" font-size="21.5" letter-spacing="1.1" textLength="131" lengthAdjust="spacingAndGlyphs">CoNi@NGs</text>
<text x="407.3" y="512" font-size="21.5" letter-spacing="1.1" textLength="131.5" lengthAdjust="spacingAndGlyphs">CoNi@NGs</text>
<text x="373" y="539.3" font-size="21.5" letter-spacing="1.1" textLength="200" lengthAdjust="spacingAndGlyphs">doping with CCB</text>
<text x="120.5" y="581.7" font-size="31">H<tspan font-size="19" dy="7">2</tspan><tspan dy="-7">S</tspan></text>
<text x="236.5" y="581.7" font-size="31">S</text>
<text x="320.8" y="582" font-size="32">CCB</text>
<text x="528.8" y="582.2" font-size="32">CNT</text>
</g>
<line x1="79.1" y1="565.2" x2="61.3" y2="580.9" stroke="#d3d7dc" stroke-width="3" stroke-linecap="round"/>
<line x1="79.1" y1="565.2" x2="97.6" y2="580.9" stroke="#d3d7dc" stroke-width="3" stroke-linecap="round"/>
<circle cx="61.3" cy="580.9" r="5.3" fill="url(#gH)"/>
<circle cx="97.6" cy="580.9" r="5.3" fill="url(#gH)"/>
<circle cx="79.1" cy="565.2" r="7.9" fill="url(#gS)"/>
<circle cx="209.7" cy="572" r="11.4" fill="url(#gS)"/>
<circle cx="296.8" cy="571.6" r="11.4" fill="url(#gC2)"/>
<path d="M415.5,576 Q435,577 455.5,579.5 Q466,579 476,570.8 Q484,571 491.5,574.2 Q503,573 515,569.8" fill="none" stroke="#747474" stroke-width="4.2" stroke-linecap="round"/>
<path d="M415.5,576 Q435,577 455.5,579.5 Q466,579 476,570.8 Q484,571 491.5,574.2 Q503,573 515,569.8" fill="none" stroke="#bcbcbc" stroke-width="1.8" stroke-linecap="round"/>
<g stroke-linecap="butt" fill="none">
<line x1="744.5" y1="84.0" x2="744.5" y2="507.0" stroke="#df1a1a" stroke-width="3"/>
<line x1="743.0" y1="505.5" x2="1266.0" y2="505.5" stroke="#df1a1a" stroke-width="3"/>
<line x1="746.0" y1="85.5" x2="1266.0" y2="85.5" stroke="#1f0752" stroke-width="3"/>
<line x1="1264.5" y1="85.5" x2="1264.5" y2="507.0" stroke="#460fa8" stroke-width="3"/>
<line x1="744.5" y1="505.5" x2="752.5" y2="505.5" stroke="#df1a1a" stroke-width="2.4"/>
<line x1="744.5" y1="470.5" x2="749.0" y2="470.5" stroke="#df1a1a" stroke-width="2.4"/>
<line x1="744.5" y1="435.5" x2="752.5" y2="435.5" stroke="#df1a1a" stroke-width="2.4"/>
<line x1="744.5" y1="400.5" x2="749.0" y2="400.5" stroke="#df1a1a" stroke-width="2.4"/>
<line x1="744.5" y1="365.5" x2="752.5" y2="365.5" stroke="#df1a1a" stroke-width="2.4"/>
<line x1="744.5" y1="330.5" x2="749.0" y2="330.5" stroke="#df1a1a" stroke-width="2.4"/>
<line x1="744.5" y1="295.5" x2="752.5" y2="295.5" stroke="#df1a1a" stroke-width="2.4"/>
<line x1="744.5" y1="260.5" x2="749.0" y2="260.5" stroke="#df1a1a" stroke-width="2.4"/>
<line x1="744.5" y1="225.5" x2="752.5" y2="225.5" stroke="#df1a1a" stroke-width="2.4"/>
<line x1="744.5" y1="190.5" x2="749.0" y2="190.5" stroke="#df1a1a" stroke-width="2.4"/>
<line x1="744.5" y1="155.5" x2="752.5" y2="155.5" stroke="#df1a1a" stroke-width="2.4"/>
<line x1="744.5" y1="120.5" x2="749.0" y2="120.5" stroke="#df1a1a" stroke-width="2.4"/>
<line x1="780" y1="505.5" x2="780" y2="497.5" stroke="#df1a1a" stroke-width="2.4"/>
<line x1="836" y1="505.5" x2="836" y2="501.0" stroke="#df1a1a" stroke-width="2.4"/>
<line x1="892" y1="505.5" x2="892" y2="497.5" stroke="#df1a1a" stroke-width="2.4"/>
<line x1="948" y1="505.5" x2="948" y2="501.0" stroke="#df1a1a" stroke-width="2.4"/>
<line x1="1004" y1="505.5" x2="1004" y2="497.5" stroke="#df1a1a" stroke-width="2.4"/>
<line x1="1060" y1="505.5" x2="1060" y2="501.0" stroke="#df1a1a" stroke-width="2.4"/>
<line x1="1116" y1="505.5" x2="1116" y2="497.5" stroke="#df1a1a" stroke-width="2.4"/>
<line x1="1172" y1="505.5" x2="1172" y2="501.0" stroke="#df1a1a" stroke-width="2.4"/>
<line x1="1228" y1="505.5" x2="1228" y2="497.5" stroke="#df1a1a" stroke-width="2.4"/>
<line x1="787.0" y1="85.5" x2="787.0" y2="93.5" stroke="#1a0a3a" stroke-width="1.6"/>
<line x1="841.3" y1="85.5" x2="841.3" y2="89.3" stroke="#1a0a3a" stroke-width="1.6"/>
<line x1="895.6" y1="85.5" x2="895.6" y2="93.5" stroke="#1a0a3a" stroke-width="1.6"/>
<line x1="949.9" y1="85.5" x2="949.9" y2="89.3" stroke="#1a0a3a" stroke-width="1.6"/>
<line x1="1004.3" y1="85.5" x2="1004.3" y2="93.5" stroke="#1a0a3a" stroke-width="1.6"/>
<line x1="1058.6" y1="85.5" x2="1058.6" y2="89.3" stroke="#1a0a3a" stroke-width="1.6"/>
<line x1="1113.0" y1="85.5" x2="1113.0" y2="93.5" stroke="#1a0a3a" stroke-width="1.6"/>
<line x1="1167.2" y1="85.5" x2="1167.2" y2="89.3" stroke="#1a0a3a" stroke-width="1.6"/>
<line x1="1221.6" y1="85.5" x2="1221.6" y2="93.5" stroke="#1a0a3a" stroke-width="1.6"/>
</g>
<g font-family="Liberation Sans, sans-serif" font-weight="bold" font-size="35.3" fill="#df1a1a" text-anchor="end">
<text x="735" y="517.3">0</text>
<text x="735" y="447.3">15</text>
<text x="735" y="377.3">30</text>
<text x="735" y="307.3">45</text>
<text x="735" y="237.3">60</text>
<text x="735" y="167.3">75</text>
<text x="735" y="97.3">90</text>
</g>
<g font-family="Liberation Sans, sans-serif" font-weight="bold" font-size="35.3" fill="#df1a1a" text-anchor="middle">
<text x="780" y="541.8">0</text>
<text x="892" y="541.8">15</text>
<text x="1004" y="541.8">30</text>
<text x="1116" y="541.8">45</text>
<text x="1228" y="541.8">60</text>
<text x="1004" y="576.3" textLength="140.5" lengthAdjust="spacingAndGlyphs">Time (d)</text>
</g>
<g font-family="Liberation Sans, sans-serif" font-weight="bold" font-size="35.3" fill="#460fa8" text-anchor="middle">
<text x="787.0" y="68">0</text>
<text x="895.6" y="68">50</text>
<text x="1004.3" y="68">100</text>
<text x="1113.0" y="68">150</text>
<text x="1221.6" y="68">200</text>
<text x="1003.5" y="34.6" textLength="140.5" lengthAdjust="spacingAndGlyphs">Time (h)</text>
</g>
<text font-family="Liberation Sans, sans-serif" font-weight="bold" font-size="33.5" fill="#df1a1a" transform="translate(681.5,351) rotate(-90)" textLength="113.5" lengthAdjust="spacingAndGlyphs"><tspan font-family="DejaVu Sans, sans-serif" font-weight="normal" font-size="33" dy="-0.5">△</tspan><tspan dy="0.5">I (</tspan>μA)</text>
<line x1="748" y1="107.4" x2="787.5" y2="107.4" stroke="#8f7fc8" stroke-width="1"/>
<rect x="764.8" y="104.6" width="5.4" height="5.4" fill="#460fa8"/>
<line x1="746" y1="143.9" x2="793" y2="143.9" stroke="#f0a0a0" stroke-width="1"/>
<rect x="766" y="141.2" width="5.2" height="5.2" fill="#d42424"/>
<g font-family="Liberation Sans, sans-serif" font-weight="bold" font-size="19.5" fill="#000">
<text x="793" y="113" textLength="449.5" lengthAdjust="spacingAndGlyphs">Long-term stability of continuous detection</text>
<text x="793.5" y="150.5" textLength="454" lengthAdjust="spacingAndGlyphs">Long-term stability of intermittent detection</text>
</g>
<text font-family="Liberation Sans, sans-serif" font-weight="bold" font-size="31.5" fill="#460fa8" x="1130" y="207.9" textLength="82.5" lengthAdjust="spacingAndGlyphs">-9.5%</text>
<text font-family="Liberation Sans, sans-serif" font-weight="bold" font-size="32" fill="#df1a1a" x="1100.5" y="312.8" textLength="83.5" lengthAdjust="spacingAndGlyphs">-1.3%</text>
<path d="M782.6,197.9h4.4v4.4h-4.4zM784.8,197.0h4.4v4.4h-4.4zM787.0,196.0h4.4v4.4h-4.4zM789.2,194.5h4.4v4.4h-4.4zM791.4,192.4h4.4v4.4h-4.4zM793.5,190.8h4.4v4.4h-4.4zM795.7,188.5h4.4v4.4h-4.4zM797.9,187.4h4.4v4.4h-4.4zM800.1,187.1h4.4v4.4h-4.4zM802.3,187.2h4.4v4.4h-4.4zM804.5,187.8h4.4v4.4h-4.4zM806.7,187.8h4.4v4.4h-4.4zM808.9,189.2h4.4v4.4h-4.4zM811.1,189.3h4.4v4.4h-4.4zM813.3,188.8h4.4v4.4h-4.4zM815.4,188.2h4.4v4.4h-4.4zM817.6,188.1h4.4v4.4h-4.4zM819.8,188.6h4.4v4.4h-4.4zM822.0,189.1h4.4v4.4h-4.4zM824.2,189.8h4.4v4.4h-4.4zM826.4,189.3h4.4v4.4h-4.4zM828.6,188.4h4.4v4.4h-4.4zM830.8,188.8h4.4v4.4h-4.4zM833.0,187.7h4.4v4.4h-4.4zM835.2,187.8h4.4v4.4h-4.4zM837.4,186.8h4.4v4.4h-4.4zM839.5,188.4h4.4v4.4h-4.4zM841.7,191.4h4.4v4.4h-4.4zM843.9,190.2h4.4v4.4h-4.4zM846.1,189.7h4.4v4.4h-4.4zM848.3,190.1h4.4v4.4h-4.4zM850.5,189.7h4.4v4.4h-4.4zM852.7,188.9h4.4v4.4h-4.4zM854.9,190.9h4.4v4.4h-4.4zM857.1,191.7h4.4v4.4h-4.4zM859.3,192.2h4.4v4.4h-4.4zM861.5,190.6h4.4v4.4h-4.4zM863.6,190.5h4.4v4.4h-4.4zM865.8,191.9h4.4v4.4h-4.4zM868.0,193.9h4.4v4.4h-4.4zM870.2,194.4h4.4v4.4h-4.4zM872.4,192.6h4.4v4.4h-4.4zM874.6,191.7h4.4v4.4h-4.4zM876.8,191.5h4.4v4.4h-4.4zM879.0,191.5h4.4v4.4h-4.4zM881.2,191.4h4.4v4.4h-4.4zM883.4,191.3h4.4v4.4h-4.4zM885.6,190.8h4.4v4.4h-4.4zM887.7,189.5h4.4v4.4h-4.4zM889.9,190.7h4.4v4.4h-4.4zM892.1,191.2h4.4v4.4h-4.4zM894.3,191.9h4.4v4.4h-4.4zM896.5,193.2h4.4v4.4h-4.4zM898.7,192.1h4.4v4.4h-4.4zM900.9,190.8h4.4v4.4h-4.4zM903.1,189.9h4.4v4.4h-4.4zM905.3,189.0h4.4v4.4h-4.4zM907.5,188.7h4.4v4.4h-4.4zM909.6,190.4h4.4v4.4h-4.4zM911.8,190.3h4.4v4.4h-4.4zM914.0,191.8h4.4v4.4h-4.4zM916.2,192.4h4.4v4.4h-4.4zM918.4,192.2h4.4v4.4h-4.4zM920.6,193.5h4.4v4.4h-4.4zM922.8,192.7h4.4v4.4h-4.4zM925.0,191.8h4.4v4.4h-4.4zM927.2,192.6h4.4v4.4h-4.4zM929.4,193.3h4.4v4.4h-4.4zM931.6,191.6h4.4v4.4h-4.4zM933.7,191.1h4.4v4.4h-4.4zM935.9,191.7h4.4v4.4h-4.4zM938.1,193.6h4.4v4.4h-4.4zM940.3,195.0h4.4v4.4h-4.4zM942.5,196.1h4.4v4.4h-4.4zM944.7,194.3h4.4v4.4h-4.4zM946.9,193.0h4.4v4.4h-4.4zM949.1,193.2h4.4v4.4h-4.4zM951.3,195.3h4.4v4.4h-4.4zM953.5,195.0h4.4v4.4h-4.4zM955.7,195.1h4.4v4.4h-4.4zM957.8,194.8h4.4v4.4h-4.4zM960.0,195.1h4.4v4.4h-4.4zM962.2,194.6h4.4v4.4h-4.4zM964.4,195.8h4.4v4.4h-4.4zM966.6,195.5h4.4v4.4h-4.4zM968.8,196.5h4.4v4.4h-4.4zM971.0,197.5h4.4v4.4h-4.4zM973.2,198.6h4.4v4.4h-4.4zM975.4,198.7h4.4v4.4h-4.4zM977.6,199.6h4.4v4.4h-4.4zM979.8,198.8h4.4v4.4h-4.4zM981.9,198.1h4.4v4.4h-4.4zM984.1,198.0h4.4v4.4h-4.4zM986.3,198.9h4.4v4.4h-4.4zM988.5,199.9h4.4v4.4h-4.4zM990.7,200.9h4.4v4.4h-4.4zM992.9,201.0h4.4v4.4h-4.4zM995.1,200.9h4.4v4.4h-4.4zM997.3,201.2h4.4v4.4h-4.4zM999.5,202.5h4.4v4.4h-4.4zM1001.7,204.7h4.4v4.4h-4.4zM1003.9,203.8h4.4v4.4h-4.4zM1006.0,203.3h4.4v4.4h-4.4zM1008.2,203.0h4.4v4.4h-4.4zM1010.4,203.3h4.4v4.4h-4.4zM1012.6,203.5h4.4v4.4h-4.4zM1014.8,203.0h4.4v4.4h-4.4zM1017.0,202.9h4.4v4.4h-4.4zM1019.2,202.5h4.4v4.4h-4.4zM1021.4,204.1h4.4v4.4h-4.4zM1023.6,204.3h4.4v4.4h-4.4zM1025.8,205.5h4.4v4.4h-4.4zM1027.9,204.8h4.4v4.4h-4.4zM1030.1,203.1h4.4v4.4h-4.4zM1032.3,204.5h4.4v4.4h-4.4zM1034.5,205.8h4.4v4.4h-4.4zM1036.7,206.6h4.4v4.4h-4.4zM1038.9,207.6h4.4v4.4h-4.4zM1041.1,207.7h4.4v4.4h-4.4zM1043.3,208.7h4.4v4.4h-4.4zM1045.5,208.1h4.4v4.4h-4.4zM1047.7,208.5h4.4v4.4h-4.4zM1049.9,207.6h4.4v4.4h-4.4zM1052.0,207.5h4.4v4.4h-4.4zM1054.2,207.8h4.4v4.4h-4.4zM1056.4,208.8h4.4v4.4h-4.4zM1058.6,210.0h4.4v4.4h-4.4zM1060.8,210.6h4.4v4.4h-4.4zM1063.0,211.2h4.4v4.4h-4.4zM1065.2,212.0h4.4v4.4h-4.4zM1067.4,212.2h4.4v4.4h-4.4zM1069.6,212.6h4.4v4.4h-4.4zM1071.8,213.2h4.4v4.4h-4.4zM1074.0,213.0h4.4v4.4h-4.4zM1076.1,212.9h4.4v4.4h-4.4zM1078.3,213.2h4.4v4.4h-4.4zM1080.5,212.8h4.4v4.4h-4.4zM1082.7,212.2h4.4v4.4h-4.4zM1084.9,211.7h4.4v4.4h-4.4zM1087.1,212.3h4.4v4.4h-4.4zM1089.3,213.5h4.4v4.4h-4.4zM1091.5,215.2h4.4v4.4h-4.4zM1093.7,216.3h4.4v4.4h-4.4zM1095.9,216.1h4.4v4.4h-4.4zM1098.1,215.4h4.4v4.4h-4.4zM1100.2,215.6h4.4v4.4h-4.4zM1102.4,215.4h4.4v4.4h-4.4zM1104.6,216.4h4.4v4.4h-4.4zM1106.8,217.5h4.4v4.4h-4.4zM1109.0,218.7h4.4v4.4h-4.4zM1111.2,219.0h4.4v4.4h-4.4zM1113.4,219.4h4.4v4.4h-4.4zM1115.6,219.0h4.4v4.4h-4.4zM1117.8,219.3h4.4v4.4h-4.4zM1120.0,219.6h4.4v4.4h-4.4zM1122.2,219.6h4.4v4.4h-4.4zM1124.3,219.3h4.4v4.4h-4.4zM1126.5,220.6h4.4v4.4h-4.4zM1128.7,220.9h4.4v4.4h-4.4zM1130.9,221.5h4.4v4.4h-4.4zM1133.1,220.8h4.4v4.4h-4.4zM1135.3,221.2h4.4v4.4h-4.4zM1137.5,220.7h4.4v4.4h-4.4zM1139.7,221.0h4.4v4.4h-4.4zM1141.9,220.6h4.4v4.4h-4.4zM1144.1,221.9h4.4v4.4h-4.4zM1146.2,222.6h4.4v4.4h-4.4zM1148.4,223.7h4.4v4.4h-4.4zM1150.6,223.8h4.4v4.4h-4.4zM1152.8,224.1h4.4v4.4h-4.4zM1155.0,224.2h4.4v4.4h-4.4zM1157.2,224.3h4.4v4.4h-4.4zM1159.4,224.5h4.4v4.4h-4.4zM1161.6,225.8h4.4v4.4h-4.4zM1163.8,226.6h4.4v4.4h-4.4zM1166.0,226.4h4.4v4.4h-4.4zM1168.2,226.2h4.4v4.4h-4.4zM1170.3,225.7h4.4v4.4h-4.4zM1172.5,225.1h4.4v4.4h-4.4zM1174.7,225.4h4.4v4.4h-4.4zM1176.9,225.3h4.4v4.4h-4.4zM1179.1,226.3h4.4v4.4h-4.4zM1181.3,226.2h4.4v4.4h-4.4zM1183.5,225.4h4.4v4.4h-4.4zM1185.7,225.4h4.4v4.4h-4.4zM1187.9,225.4h4.4v4.4h-4.4zM1190.1,226.0h4.4v4.4h-4.4zM1192.3,226.1h4.4v4.4h-4.4zM1194.4,227.1h4.4v4.4h-4.4zM1196.6,226.4h4.4v4.4h-4.4zM1198.8,225.9h4.4v4.4h-4.4zM1201.0,225.1h4.4v4.4h-4.4zM1203.2,225.5h4.4v4.4h-4.4zM1205.4,226.4h4.4v4.4h-4.4zM1207.6,227.0h4.4v4.4h-4.4zM1209.8,227.1h4.4v4.4h-4.4zM1212.0,226.4h4.4v4.4h-4.4zM1214.2,226.4h4.4v4.4h-4.4zM1216.4,226.6h4.4v4.4h-4.4zM1218.5,226.8h4.4v4.4h-4.4zM1220.7,226.3h4.4v4.4h-4.4z" fill="#460fa8"/>
<polyline points="787.5,256.8 795.0,254.8 802.4,247.3 809.9,252.8 817.4,251.8 824.8,254.4 832.3,257.7 839.8,258.7 847.2,258.7 854.7,258.1 862.2,256.2 869.6,260.3 877.1,251.4 884.6,253.8 892.0,255.8 899.5,256.2 907.0,256.2 914.4,259.1 921.9,259.7 929.4,261.3 936.8,259.1 944.3,257.7 951.8,258.7 959.2,262.3 966.7,257.7 974.2,259.9 981.6,257.9 989.1,256.4 996.6,255.8 1004.0,256.8 1011.5,260.3 1018.9,257.3 1026.4,259.7 1033.9,262.1 1041.3,261.7 1048.8,259.7 1056.3,256.8 1063.7,259.7 1071.2,259.7 1078.7,261.1 1086.1,261.7 1093.6,262.7 1101.1,262.3 1108.5,261.7 1116.0,257.1 1123.5,260.7 1130.9,261.1 1138.4,261.7 1145.9,263.7 1153.3,264.6 1160.8,260.3 1168.3,261.1 1175.7,261.7 1183.2,263.7 1190.7,265.0 1198.1,262.7 1205.6,260.3 1213.1,260.3 1220.5,259.7 1228.0,260.3" fill="none" stroke="#ef8a8a" stroke-width="1.1"/>
<rect x="785.45" y="254.70" width="4.1" height="4.1" fill="#d81c1c"/>
<rect x="792.92" y="252.73" width="4.1" height="4.1" fill="#d81c1c"/>
<rect x="800.38" y="245.24" width="4.1" height="4.1" fill="#d81c1c"/>
<rect x="807.85" y="250.76" width="4.1" height="4.1" fill="#d81c1c"/>
<rect x="815.31" y="249.77" width="4.1" height="4.1" fill="#d81c1c"/>
<rect x="822.78" y="252.33" width="4.1" height="4.1" fill="#d81c1c"/>
<rect x="830.25" y="255.69" width="4.1" height="4.1" fill="#d81c1c"/>
<rect x="837.71" y="256.67" width="4.1" height="4.1" fill="#d81c1c"/>
<rect x="845.18" y="256.67" width="4.1" height="4.1" fill="#d81c1c"/>
<rect x="852.64" y="256.08" width="4.1" height="4.1" fill="#d81c1c"/>
<rect x="860.11" y="254.11" width="4.1" height="4.1" fill="#d81c1c"/>
<rect x="867.58" y="258.25" width="4.1" height="4.1" fill="#d81c1c"/>
<rect x="875.04" y="249.38" width="4.1" height="4.1" fill="#d81c1c"/>
<rect x="882.51" y="251.74" width="4.1" height="4.1" fill="#d81c1c"/>
<rect x="889.98" y="253.71" width="4.1" height="4.1" fill="#d81c1c"/>
<rect x="897.44" y="254.11" width="4.1" height="4.1" fill="#d81c1c"/>
<rect x="904.91" y="254.11" width="4.1" height="4.1" fill="#d81c1c"/>
<rect x="912.37" y="257.07" width="4.1" height="4.1" fill="#d81c1c"/>
<rect x="919.84" y="257.66" width="4.1" height="4.1" fill="#d81c1c"/>
<rect x="927.31" y="259.24" width="4.1" height="4.1" fill="#d81c1c"/>
<rect x="934.77" y="257.07" width="4.1" height="4.1" fill="#d81c1c"/>
<rect x="942.24" y="255.69" width="4.1" height="4.1" fill="#d81c1c"/>
<rect x="949.70" y="256.67" width="4.1" height="4.1" fill="#d81c1c"/>
<rect x="957.17" y="260.22" width="4.1" height="4.1" fill="#d81c1c"/>
<rect x="964.64" y="255.69" width="4.1" height="4.1" fill="#d81c1c"/>
<rect x="972.10" y="257.86" width="4.1" height="4.1" fill="#d81c1c"/>
<rect x="979.57" y="255.88" width="4.1" height="4.1" fill="#d81c1c"/>
<rect x="987.03" y="254.31" width="4.1" height="4.1" fill="#d81c1c"/>
<rect x="994.50" y="253.71" width="4.1" height="4.1" fill="#d81c1c"/>
<rect x="1001.97" y="254.70" width="4.1" height="4.1" fill="#d81c1c"/>
<rect x="1009.43" y="258.25" width="4.1" height="4.1" fill="#d81c1c"/>
<rect x="1016.90" y="255.29" width="4.1" height="4.1" fill="#d81c1c"/>
<rect x="1024.37" y="257.66" width="4.1" height="4.1" fill="#d81c1c"/>
<rect x="1031.83" y="260.02" width="4.1" height="4.1" fill="#d81c1c"/>
<rect x="1039.30" y="259.63" width="4.1" height="4.1" fill="#d81c1c"/>
<rect x="1046.76" y="257.66" width="4.1" height="4.1" fill="#d81c1c"/>
<rect x="1054.23" y="254.70" width="4.1" height="4.1" fill="#d81c1c"/>
<rect x="1061.70" y="257.66" width="4.1" height="4.1" fill="#d81c1c"/>
<rect x="1069.16" y="257.66" width="4.1" height="4.1" fill="#d81c1c"/>
<rect x="1076.63" y="259.04" width="4.1" height="4.1" fill="#d81c1c"/>
<rect x="1084.09" y="259.63" width="4.1" height="4.1" fill="#d81c1c"/>
<rect x="1091.56" y="260.62" width="4.1" height="4.1" fill="#d81c1c"/>
<rect x="1099.03" y="260.22" width="4.1" height="4.1" fill="#d81c1c"/>
<rect x="1106.49" y="259.63" width="4.1" height="4.1" fill="#d81c1c"/>
<rect x="1113.96" y="255.10" width="4.1" height="4.1" fill="#d81c1c"/>
<rect x="1121.42" y="258.64" width="4.1" height="4.1" fill="#d81c1c"/>
<rect x="1128.89" y="259.04" width="4.1" height="4.1" fill="#d81c1c"/>
<rect x="1136.36" y="259.63" width="4.1" height="4.1" fill="#d81c1c"/>
<rect x="1143.82" y="261.60" width="4.1" height="4.1" fill="#d81c1c"/>
<rect x="1151.29" y="262.59" width="4.1" height="4.1" fill="#d81c1c"/>
<rect x="1158.76" y="258.25" width="4.1" height="4.1" fill="#d81c1c"/>
<rect x="1166.22" y="259.04" width="4.1" height="4.1" fill="#d81c1c"/>
<rect x="1173.69" y="259.63" width="4.1" height="4.1" fill="#d81c1c"/>
<rect x="1181.15" y="261.60" width="4.1" height="4.1" fill="#d81c1c"/>
<rect x="1188.62" y="262.98" width="4.1" height="4.1" fill="#d81c1c"/>
<rect x="1196.09" y="260.62" width="4.1" height="4.1" fill="#d81c1c"/>
<rect x="1203.55" y="258.25" width="4.1" height="4.1" fill="#d81c1c"/>
<rect x="1211.02" y="258.25" width="4.1" height="4.1" fill="#d81c1c"/>
<rect x="1218.48" y="257.66" width="4.1" height="4.1" fill="#d81c1c"/>
<rect x="1225.95" y="258.25" width="4.1" height="4.1" fill="#d81c1c"/>
</svg>
</body></html>
